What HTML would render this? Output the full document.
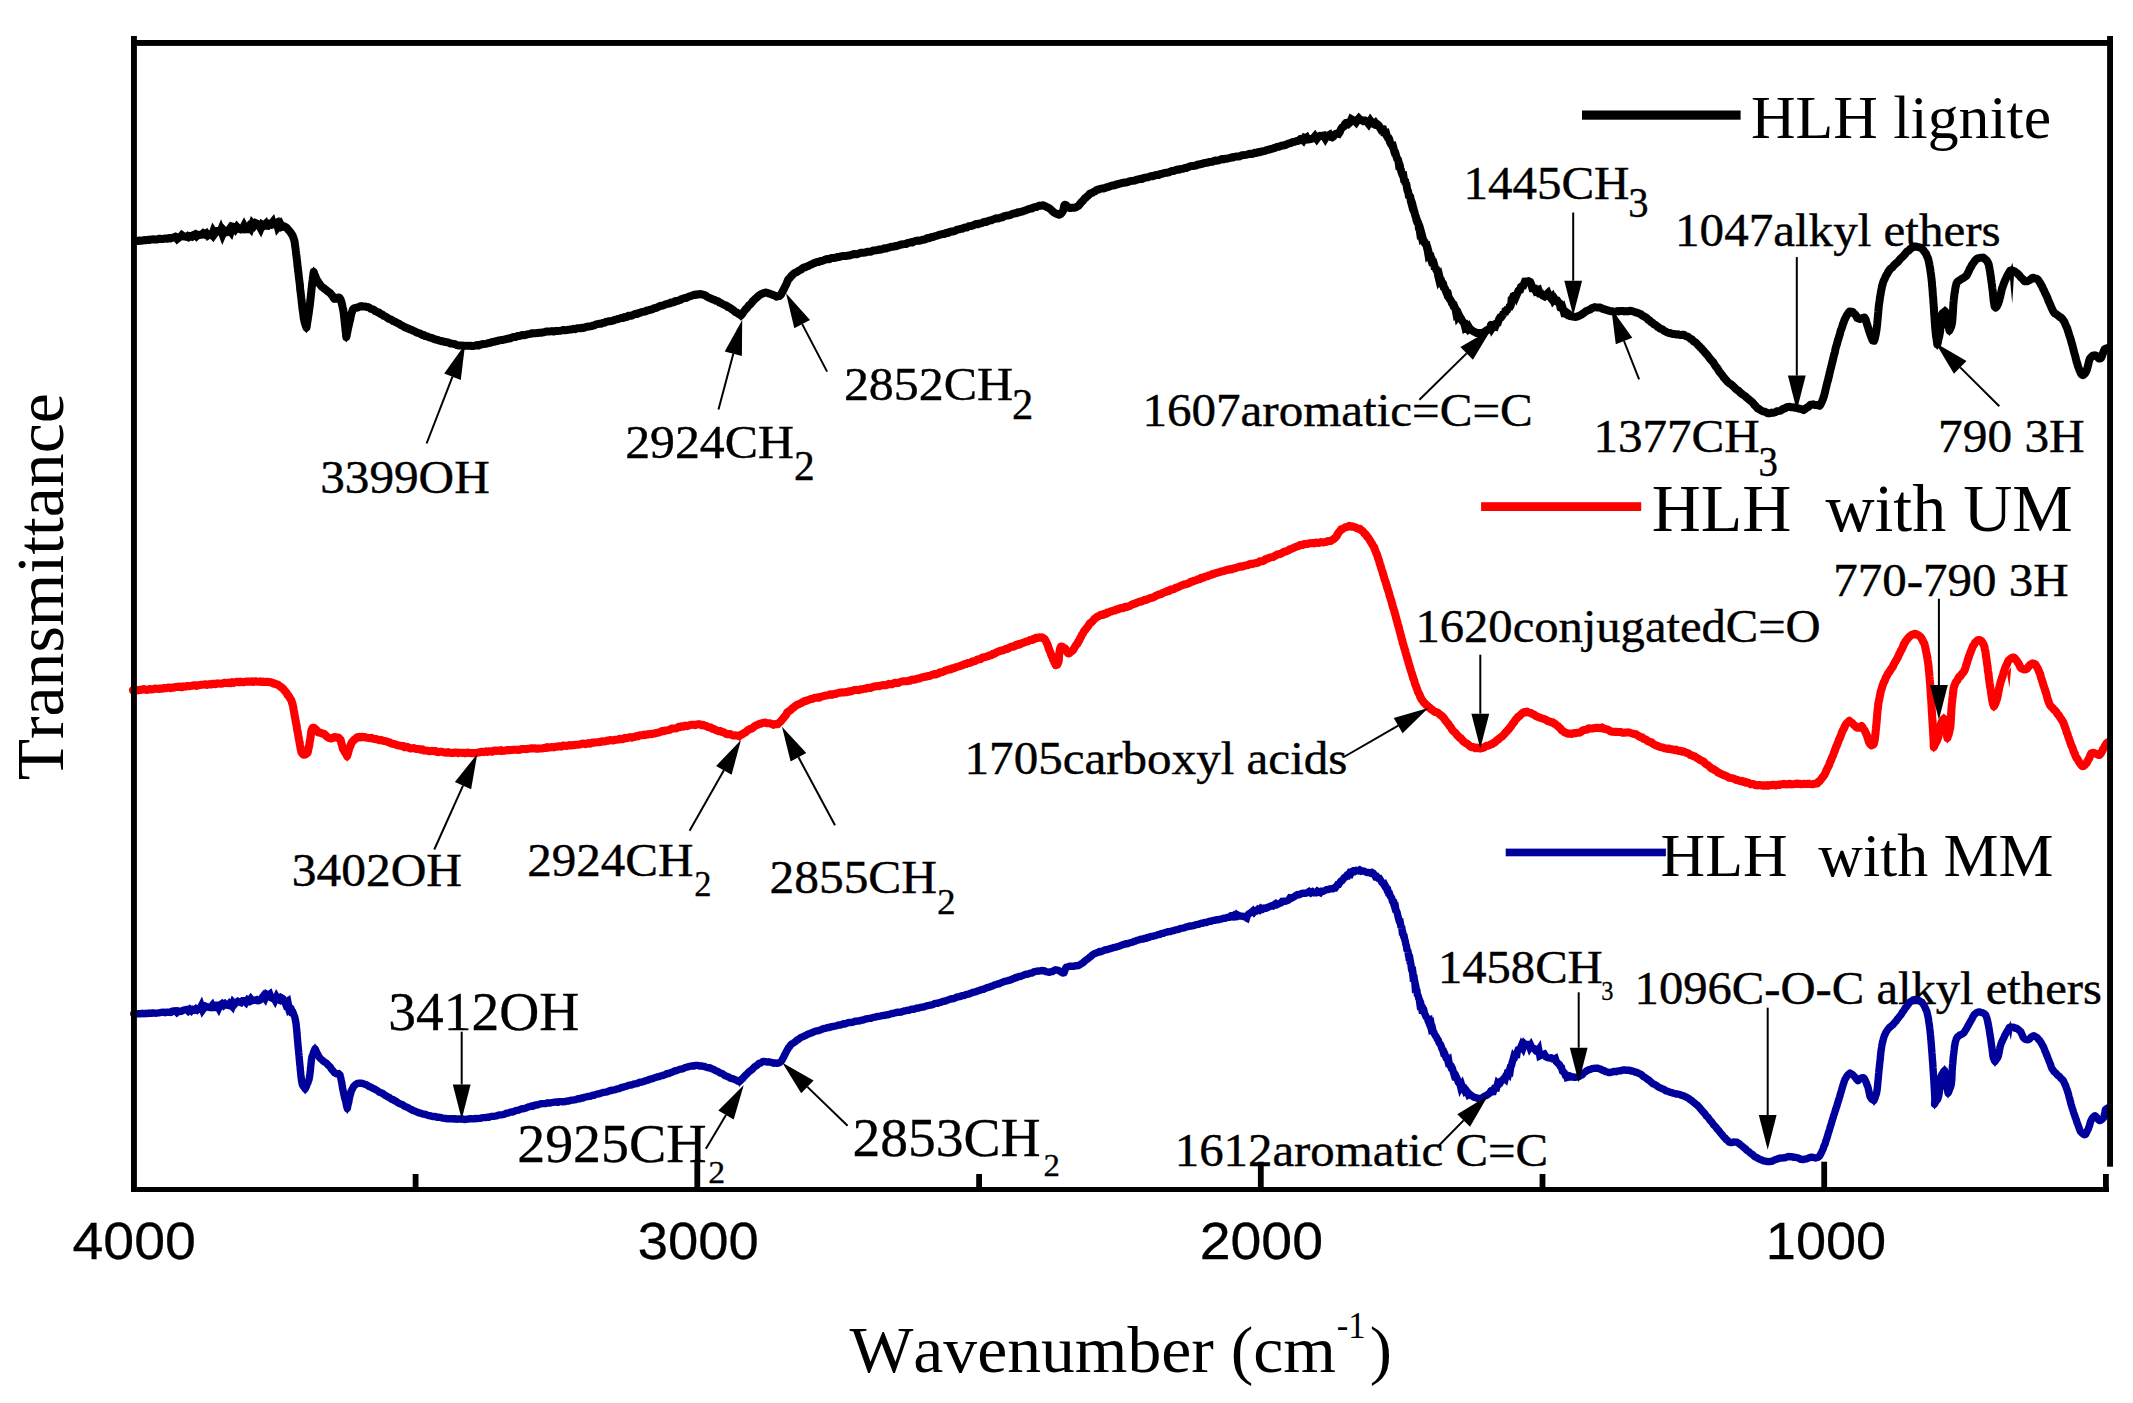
<!DOCTYPE html>
<html><head><meta charset="utf-8"><title>FTIR spectra</title>
<style>html,body{margin:0;padding:0;background:#fff}svg{display:block}text{font-kerning:none}</style>
</head><body>
<svg width="2133" height="1403" viewBox="0 0 2133 1403">
<rect width="2133" height="1403" fill="#fff"/>
<rect x="1582" y="110.5" width="158.6" height="9.2" fill="#000"/>
<rect x="1481.1" y="502.2" width="160.1" height="8.8" fill="#f00"/>
<rect x="1505.7" y="848.6" width="160.2" height="7.7" fill="#00009b"/>
<text x="1751.0" y="137.8" font-size="61.0" font-family="'Liberation Serif','Times New Roman',serif" textLength="300.1" lengthAdjust="spacingAndGlyphs" xml:space="preserve">HLH lignite</text>
<text x="1651.7" y="530.7" font-size="67.5" font-family="'Liberation Serif','Times New Roman',serif" textLength="421.1" lengthAdjust="spacingAndGlyphs" xml:space="preserve">HLH  with UM</text>
<text x="1660.6" y="876.3" font-size="61.3" font-family="'Liberation Serif','Times New Roman',serif" textLength="392.8" lengthAdjust="spacingAndGlyphs" xml:space="preserve">HLH  with MM</text>
<text x="1463.4" y="199.0" font-size="46.5" font-family="'Liberation Serif','Times New Roman',serif" textLength="166.1" lengthAdjust="spacingAndGlyphs" xml:space="preserve" stroke="#000" stroke-width="0.40">1445CH</text>
<text x="1628.2" y="217.0" font-size="42.0" font-family="'Liberation Serif','Times New Roman',serif" textLength="20.3" lengthAdjust="spacingAndGlyphs" xml:space="preserve" stroke="#000" stroke-width="0.40">3</text>
<text x="1675.1" y="246.0" font-size="46.5" font-family="'Liberation Serif','Times New Roman',serif" textLength="325.6" lengthAdjust="spacingAndGlyphs" xml:space="preserve" stroke="#000" stroke-width="0.40">1047alkyl ethers</text>
<text x="843.9" y="399.9" font-size="46.5" font-family="'Liberation Serif','Times New Roman',serif" textLength="169.1" lengthAdjust="spacingAndGlyphs" xml:space="preserve" stroke="#000" stroke-width="0.40">2852CH</text>
<text x="1012.1" y="419.3" font-size="43.5" font-family="'Liberation Serif','Times New Roman',serif" textLength="21.3" lengthAdjust="spacingAndGlyphs" xml:space="preserve" stroke="#000" stroke-width="0.40">2</text>
<text x="1142.5" y="425.7" font-size="46.5" font-family="'Liberation Serif','Times New Roman',serif" textLength="390.3" lengthAdjust="spacingAndGlyphs" xml:space="preserve" stroke="#000" stroke-width="0.40">1607aromatic=C=C</text>
<text x="320.2" y="492.9" font-size="46.5" font-family="'Liberation Serif','Times New Roman',serif" textLength="169.5" lengthAdjust="spacingAndGlyphs" xml:space="preserve" stroke="#000" stroke-width="0.40">3399OH</text>
<text x="625.2" y="458.2" font-size="46.5" font-family="'Liberation Serif','Times New Roman',serif" textLength="168.7" lengthAdjust="spacingAndGlyphs" xml:space="preserve" stroke="#000" stroke-width="0.40">2924CH</text>
<text x="793.9" y="479.7" font-size="43.0" font-family="'Liberation Serif','Times New Roman',serif" textLength="20.7" lengthAdjust="spacingAndGlyphs" xml:space="preserve" stroke="#000" stroke-width="0.40">2</text>
<text x="1593.4" y="451.9" font-size="46.5" font-family="'Liberation Serif','Times New Roman',serif" textLength="166.4" lengthAdjust="spacingAndGlyphs" xml:space="preserve" stroke="#000" stroke-width="0.40">1377CH</text>
<text x="1758.6" y="475.5" font-size="42.0" font-family="'Liberation Serif','Times New Roman',serif" textLength="19.4" lengthAdjust="spacingAndGlyphs" xml:space="preserve" stroke="#000" stroke-width="0.40">3</text>
<text x="1938.1" y="451.9" font-size="46.5" font-family="'Liberation Serif','Times New Roman',serif" textLength="146.6" lengthAdjust="spacingAndGlyphs" xml:space="preserve" stroke="#000" stroke-width="0.40">790 3H</text>
<text x="1833.3" y="595.7" font-size="46.5" font-family="'Liberation Serif','Times New Roman',serif" textLength="235.2" lengthAdjust="spacingAndGlyphs" xml:space="preserve" stroke="#000" stroke-width="0.40">770-790 3H</text>
<text x="1415.5" y="641.6" font-size="46.5" font-family="'Liberation Serif','Times New Roman',serif" textLength="405.2" lengthAdjust="spacingAndGlyphs" xml:space="preserve" stroke="#000" stroke-width="0.40">1620conjugatedC=O</text>
<text x="964.6" y="773.8" font-size="46.5" font-family="'Liberation Serif','Times New Roman',serif" textLength="382.8" lengthAdjust="spacingAndGlyphs" xml:space="preserve" stroke="#000" stroke-width="0.40">1705carboxyl acids</text>
<text x="291.7" y="885.6" font-size="46.5" font-family="'Liberation Serif','Times New Roman',serif" textLength="170.4" lengthAdjust="spacingAndGlyphs" xml:space="preserve" stroke="#000" stroke-width="0.40">3402OH</text>
<text x="527.3" y="875.8" font-size="46.5" font-family="'Liberation Serif','Times New Roman',serif" textLength="166.2" lengthAdjust="spacingAndGlyphs" xml:space="preserve" stroke="#000" stroke-width="0.40">2924CH</text>
<text x="694.2" y="896.1" font-size="36.0" font-family="'Liberation Serif','Times New Roman',serif" textLength="17.3" lengthAdjust="spacingAndGlyphs" xml:space="preserve" stroke="#000" stroke-width="0.30">2</text>
<text x="769.5" y="892.9" font-size="46.5" font-family="'Liberation Serif','Times New Roman',serif" textLength="167.5" lengthAdjust="spacingAndGlyphs" xml:space="preserve" stroke="#000" stroke-width="0.40">2855CH</text>
<text x="937.0" y="913.5" font-size="36.4" font-family="'Liberation Serif','Times New Roman',serif" textLength="18.7" lengthAdjust="spacingAndGlyphs" xml:space="preserve" stroke="#000" stroke-width="0.30">2</text>
<text x="388.3" y="1030.0" font-size="55.0" font-family="'Liberation Serif','Times New Roman',serif" textLength="191.0" lengthAdjust="spacingAndGlyphs" xml:space="preserve" stroke="#000" stroke-width="0.30">3412OH</text>
<text x="517.2" y="1162.3" font-size="55.0" font-family="'Liberation Serif','Times New Roman',serif" textLength="189.5" lengthAdjust="spacingAndGlyphs" xml:space="preserve" stroke="#000" stroke-width="0.30">2925CH</text>
<text x="708.2" y="1182.5" font-size="32.4" font-family="'Liberation Serif','Times New Roman',serif" textLength="16.9" lengthAdjust="spacingAndGlyphs" xml:space="preserve" stroke="#000" stroke-width="0.30">2</text>
<text x="852.4" y="1155.5" font-size="55.0" font-family="'Liberation Serif','Times New Roman',serif" textLength="188.3" lengthAdjust="spacingAndGlyphs" xml:space="preserve" stroke="#000" stroke-width="0.30">2853CH</text>
<text x="1043.4" y="1175.8" font-size="32.4" font-family="'Liberation Serif','Times New Roman',serif" textLength="16.4" lengthAdjust="spacingAndGlyphs" xml:space="preserve" stroke="#000" stroke-width="0.30">2</text>
<text x="1174.8" y="1165.6" font-size="46.5" font-family="'Liberation Serif','Times New Roman',serif" textLength="373.3" lengthAdjust="spacingAndGlyphs" xml:space="preserve" stroke="#000" stroke-width="0.40">1612aromatic C=C</text>
<text x="1437.9" y="982.8" font-size="46.5" font-family="'Liberation Serif','Times New Roman',serif" textLength="164.8" lengthAdjust="spacingAndGlyphs" xml:space="preserve" stroke="#000" stroke-width="0.40">1458CH</text>
<text x="1601.2" y="1000.0" font-size="28.3" font-family="'Liberation Serif','Times New Roman',serif" textLength="12.2" lengthAdjust="spacingAndGlyphs" xml:space="preserve" stroke="#000" stroke-width="0.30">3</text>
<text x="1634.6" y="1003.7" font-size="46.5" font-family="'Liberation Serif','Times New Roman',serif" textLength="467.3" lengthAdjust="spacingAndGlyphs" xml:space="preserve" stroke="#000" stroke-width="0.40">1096C-O-C alkyl ethers</text>
<text x="72.4" y="1259.2" font-size="51.8" font-family="'Liberation Sans',Arial,sans-serif" textLength="123.5" lengthAdjust="spacingAndGlyphs" xml:space="preserve" stroke="#000" stroke-width="0.30">4000</text>
<text x="637.8" y="1259.2" font-size="51.8" font-family="'Liberation Sans',Arial,sans-serif" textLength="121.0" lengthAdjust="spacingAndGlyphs" xml:space="preserve" stroke="#000" stroke-width="0.30">3000</text>
<text x="1199.7" y="1259.2" font-size="51.8" font-family="'Liberation Sans',Arial,sans-serif" textLength="123.3" lengthAdjust="spacingAndGlyphs" xml:space="preserve" stroke="#000" stroke-width="0.30">2000</text>
<text x="1765.8" y="1259.2" font-size="51.8" font-family="'Liberation Sans',Arial,sans-serif" textLength="120.4" lengthAdjust="spacingAndGlyphs" xml:space="preserve" stroke="#000" stroke-width="0.30">1000</text>
<text x="849.4" y="1372.3" font-size="66.0" font-family="'Liberation Serif','Times New Roman',serif" textLength="486.6" lengthAdjust="spacingAndGlyphs" xml:space="preserve">Wavenumber (cm</text>
<text x="1336.7" y="1338.1" font-size="37.6" font-family="'Liberation Serif','Times New Roman',serif" textLength="28.8" lengthAdjust="spacingAndGlyphs" xml:space="preserve">-1</text>
<text x="1369.8" y="1372.3" font-size="66.0" font-family="'Liberation Serif','Times New Roman',serif" textLength="22.2" lengthAdjust="spacingAndGlyphs" xml:space="preserve">)</text>
<text transform="translate(63.4,780.3) rotate(-90)" font-size="67.0" font-family="'Liberation Serif','Times New Roman',serif" textLength="387.1" lengthAdjust="spacingAndGlyphs">Transmittance</text>
<clipPath id="cp"><rect x="120" y="46" width="1990" height="1141"/></clipPath>
<g clip-path="url(#cp)">
<path d="M136.5,241.0 L137.3,240.8 L138.3,241.1 L139.6,240.5 L141.0,240.7 L142.6,240.5 L144.2,240.1 L146.0,240.3 L147.9,239.7 L149.8,239.9 L151.6,239.4 L153.5,239.3 L155.3,239.4 L157.0,239.5 L158.6,238.8 L160.0,238.8 L161.3,239.0 L162.7,239.1 L164.2,238.7 L165.7,238.4 L167.3,238.8 L168.9,237.9 L170.5,238.4 L172.2,237.8 L173.9,237.6 L175.5,236.8" fill="none" stroke="#000" stroke-width="8.0" stroke-linejoin="round" stroke-miterlimit="2.7" stroke-linecap="round"/>
<path d="M175.5,236.8 L177.2,238.9 L178.8,237.6 L180.4,237.0 L181.9,235.2 L183.4,236.3 L184.8,236.6 L186.1,236.8 L187.4,236.0 L188.8,237.1 L190.3,236.2 L191.8,236.7 L193.4,235.1 L195.0,234.4 L196.6,236.2 L198.3,234.8 L199.9,235.0 L201.5,234.7 L203.2,233.2 L204.8,234.3 L206.3,233.4 L207.8,235.5 L209.3,234.5 L210.7,233.9 L212.0,235.1 L213.3,231.5 L214.7,233.7 L216.2,231.7 L217.7,228.5 L219.3,233.9 L220.9,230.1 L222.5,234.3 L224.1,230.6 L225.8,232.4 L227.4,232.1 L229.1,229.7 L230.7,231.7 L232.3,226.6 L233.9,227.0 L235.4,229.1 L236.9,226.9 L238.3,228.4 L239.6,228.9 L240.9,229.4 L242.4,228.8 L243.9,226.0 L245.5,229.3 L247.2,229.2 L248.9,226.7 L250.6,228.6 L252.4,223.6 L254.1,225.5 L255.8,223.1 L257.5,223.8 L259.2,225.5 L260.7,228.3 L262.2,224.7 L263.6,225.6 L264.9,224.4 L266.0,228.5 L267.0,225.9 L269.0,223.9 L270.8,224.5 L272.5,222.4 L274.0,227.3 L275.4,223.3 L276.7,222.7 L277.9,227.2 L279.0,225.9 L280.5,224.1 L282.0,226.9 L283.5,226.4" fill="none" stroke="#000" stroke-width="8.0" stroke-linejoin="miter" stroke-miterlimit="2.7" stroke-linecap="round"/>
<path d="M283.5,226.4 L285.0,226.7 L286.3,227.4 L287.5,228.8 L288.3,229.8 L289.2,230.7 L290.1,231.8 L291.0,233.1 L291.9,234.5 L292.7,235.7 L293.4,237.7 L294.0,239.5 L294.2,240.2 L294.5,241.3 L294.7,242.8 L294.9,244.1 L295.1,245.9 L295.4,247.6 L295.6,248.8 L295.8,250.9 L296.0,252.6 L296.2,254.3 L296.4,255.6 L296.6,257.2 L296.8,258.9 L297.0,260.6 L297.2,262.3 L297.4,264.2 L297.5,265.9 L297.7,267.3 L297.9,268.3 L298.0,269.8 L298.2,271.4 L298.4,272.4 L298.6,274.4 L298.8,276.3 L299.0,277.9 L299.2,279.6 L299.4,281.2 L299.6,282.7 L299.8,284.9 L300.0,286.3 L300.1,288.4 L300.3,290.2 L300.5,291.3 L300.7,292.9 L300.9,294.8 L301.0,296.0 L301.2,296.8 L301.3,297.9 L301.5,299.6 L301.7,302.0 L301.9,303.7 L302.1,305.0 L302.3,307.3 L302.5,309.2 L302.8,310.6 L303.0,312.1 L303.2,313.8 L303.4,314.9 L303.5,316.2 L303.7,318.1 L303.9,318.9 L304.3,320.7 L304.7,322.7 L305.1,323.7 L305.6,325.4 L306.1,326.6 L306.5,327.8 L306.7,326.0 L307.0,324.4 L307.2,322.8 L307.5,321.1 L307.7,319.8 L308.0,317.9 L308.2,316.4 L308.5,314.5 L308.7,313.5 L308.9,311.6 L309.1,310.1 L309.3,308.8 L309.5,307.6 L309.7,305.9 L309.9,305.0 L310.0,303.2 L310.2,301.7 L310.4,300.1 L310.6,298.0 L310.8,296.7 L310.9,294.8 L311.1,293.0 L311.3,292.0 L311.4,289.9 L311.6,288.7 L311.7,287.5 L311.9,286.1 L312.0,284.9 L312.2,283.3 L312.4,281.6 L312.6,280.2 L312.8,278.0 L313.1,276.8 L313.3,275.0 L313.5,273.4 L313.7,272.0 L314.4,273.9 L315.0,275.4 L315.7,277.1 L316.3,278.8 L317.0,280.3 L317.8,281.3 L318.7,282.9 L319.8,284.2 L320.9,285.6 L322.0,287.0 L323.1,287.7 L324.6,288.9 L326.2,290.0 L327.8,291.4 L329.2,292.3 L330.3,293.3 L331.5,294.8 L332.5,295.9 L333.5,297.6 L334.4,298.9 L336.1,298.7 L338.0,297.4 L339.6,297.9 L340.1,298.9 L340.6,299.6 L341.0,301.0 L341.5,302.3 L342.0,304.4 L342.4,306.3 L342.8,308.3 L343.2,309.7 L343.4,311.1 L343.5,312.2 L343.7,313.0 L343.9,314.9 L344.0,316.3 L344.2,317.2 L344.4,319.3 L344.5,320.5 L344.7,322.2 L344.9,324.3 L345.1,325.8 L345.2,327.0 L345.4,328.9 L345.6,330.7 L345.8,332.2 L346.0,333.7 L346.1,335.4 L346.3,337.1 L346.6,335.7 L347.0,333.5 L347.3,332.3 L347.7,330.5 L348.0,328.4 L348.4,327.0 L348.7,325.6 L349.1,323.9 L349.4,322.1 L349.7,321.5 L350.0,320.1 L350.2,319.2 L350.7,316.6 L351.1,314.9 L351.5,313.0 L352.0,312.0 L352.5,310.3 L353.0,309.2 L354.5,308.1 L356.3,307.8 L358.2,307.3 L359.7,306.5 L361.5,306.1 L363.4,306.6 L365.4,306.6 L366.5,307.0 L367.8,307.0 L369.3,307.6 L370.8,308.8 L372.4,309.3 L374.0,309.8 L375.5,311.3 L376.8,311.7 L378.0,312.5 L379.3,312.6 L380.6,314.0 L382.1,314.3 L383.5,315.8 L385.0,316.3 L386.4,317.1 L387.9,318.1 L389.2,319.1 L390.3,319.2 L391.6,319.8 L392.9,320.9 L394.3,321.4 L395.8,322.1 L397.3,323.0 L398.8,323.7 L400.3,324.7 L401.8,325.5 L403.3,326.3 L404.7,327.3 L405.9,327.5 L407.1,328.2 L408.5,328.6 L410.0,329.4 L411.5,329.8 L413.1,330.7 L414.7,331.2 L416.4,332.4 L418.0,332.9 L419.6,333.3 L421.1,334.2 L422.6,335.1 L424.0,335.0 L425.3,336.1 L426.6,336.2 L428.0,336.8 L429.5,337.5 L431.0,337.7 L432.6,338.3 L434.2,339.0 L435.8,339.7 L437.4,339.7 L439.0,340.6 L440.6,340.9 L442.0,341.3 L443.5,341.5 L444.8,341.9 L446.0,341.9 L447.4,342.4 L448.8,342.7 L450.4,343.6 L451.9,343.6 L453.5,343.9 L455.1,344.2 L456.7,345.1 L458.2,345.4 L459.7,345.5 L461.1,345.4 L462.5,345.6 L463.7,345.7 L465.2,345.9 L466.8,345.7 L468.5,345.9 L470.2,345.7 L471.9,346.1 L473.7,346.0 L475.4,345.5 L477.0,345.1 L478.6,345.5 L480.0,344.7 L481.4,344.6 L482.7,344.1 L484.1,344.1 L485.5,343.9 L487.0,343.6 L488.6,343.0 L490.3,342.8 L492.1,342.0 L494.0,341.8 L496.0,341.2 L497.0,341.2 L498.0,340.7 L499.2,340.4 L500.4,340.3 L501.7,339.9 L503.0,339.9 L504.4,339.5 L505.9,339.3 L507.4,338.8 L509.0,338.5 L510.6,338.2 L512.2,337.4 L513.9,337.0 L515.5,337.1 L517.2,336.1 L518.9,336.1 L520.6,335.7 L522.3,334.9 L524.0,335.2 L525.7,334.9 L527.3,334.4 L528.9,334.1 L530.5,333.9 L531.6,333.2 L532.7,333.4 L534.0,333.2 L535.2,333.3 L536.6,333.1 L537.9,333.0 L539.4,332.7 L540.8,332.8 L542.3,332.4 L543.9,332.3 L545.4,331.8 L547.0,331.5 L548.6,331.4 L550.3,331.4 L551.9,331.1 L553.6,331.5 L555.3,331.1 L557.0,331.0 L558.6,330.9 L560.3,330.7 L562.0,330.4 L563.7,329.9 L565.3,330.3 L567.0,330.1 L568.6,329.7 L570.2,329.6 L571.8,329.5 L573.3,328.8 L574.9,329.2 L576.3,328.6 L577.8,328.2 L579.2,328.2 L580.5,328.3 L581.8,327.7 L583.1,327.9 L584.4,327.8 L585.7,327.1 L587.1,326.7 L588.5,326.5 L590.0,326.4 L591.4,326.1 L593.0,325.6 L594.5,325.3 L596.0,324.4 L597.6,324.1 L599.2,323.8 L600.8,323.8 L602.4,323.0 L604.1,322.8 L605.7,322.0 L607.3,321.6 L608.9,321.3 L610.5,321.2 L612.1,320.8 L613.7,320.4 L615.3,319.6 L616.9,319.4 L618.4,318.9 L619.9,318.5 L621.4,317.8 L622.8,318.1 L624.3,317.1 L625.7,317.3 L627.0,316.9 L628.3,315.8 L629.5,315.8 L630.8,315.8 L631.9,315.6 L633.0,314.9 L634.5,314.3 L635.9,313.8 L637.4,314.0 L639.0,312.9 L640.5,312.7 L642.1,311.9 L643.7,311.7 L645.3,311.6 L646.8,310.4 L648.4,310.5 L650.0,309.7 L651.6,309.5 L653.2,308.8 L654.7,307.9 L656.2,308.0 L657.8,307.2 L659.2,306.3 L660.7,305.8 L662.1,305.7 L663.5,305.2 L664.8,304.7 L666.1,304.1 L667.4,303.9 L668.6,303.5 L669.7,303.5 L670.8,302.5 L672.3,302.6 L673.8,302.2 L675.3,301.1 L676.9,301.2 L678.5,300.5 L680.1,300.0 L681.7,299.0 L683.3,298.5 L684.9,297.9 L686.5,297.9 L688.0,297.0 L689.5,296.4 L690.9,296.0 L692.3,295.4 L693.6,294.9 L694.9,294.6 L696.0,294.9 L697.1,294.3 L698.0,294.6 L699.8,294.0 L701.4,294.2 L702.9,294.7 L704.4,294.9 L705.7,295.6 L707.0,296.7 L708.3,297.3 L709.6,297.9 L711.0,298.4 L712.1,299.1 L713.4,299.7 L714.8,300.0 L716.2,300.9 L717.8,301.1 L719.3,302.4 L720.9,303.0 L722.4,304.0 L723.9,304.7 L725.3,305.2 L726.6,305.7 L727.7,307.0 L729.0,307.2 L730.3,308.2 L731.6,309.0 L732.9,309.8 L734.3,311.1 L735.6,312.2 L737.0,312.6 L738.3,313.8 L739.7,314.4 L741.0,315.5 L742.0,314.3 L743.0,312.9 L744.0,311.4 L745.0,310.1 L746.0,308.8 L747.0,308.1 L748.0,306.6 L749.0,305.2 L750.0,304.6 L751.0,303.7 L752.0,302.3 L753.0,301.0 L754.2,299.9 L755.4,298.6 L756.7,297.6 L758.0,296.3 L759.4,295.3 L760.7,294.4 L762.0,293.8 L763.2,293.4 L764.3,292.9 L765.6,292.5 L767.0,292.8 L768.6,293.4 L770.3,293.9 L772.0,294.6 L773.6,295.1 L775.3,295.8 L776.8,296.7 L778.1,296.1 L779.3,296.0 L780.1,295.5 L780.9,294.7 L781.7,293.0 L782.5,291.7 L783.3,290.1 L784.1,288.6 L784.9,286.9 L785.6,285.6 L786.4,283.8 L787.1,282.3 L787.9,280.2 L788.6,278.9 L789.3,278.5 L790.3,277.4 L791.4,275.9 L792.6,274.9 L793.8,273.5 L795.1,272.8 L796.5,272.3 L797.9,271.3 L799.4,270.4 L801.0,269.7 L802.0,268.6 L803.0,268.0 L804.0,267.4 L805.2,267.2 L806.4,266.7 L807.7,266.3 L809.0,265.5 L810.5,264.8 L811.9,264.3 L813.5,263.4 L815.1,262.9 L816.8,261.9 L818.6,261.9 L820.4,260.9 L822.3,260.9 L824.3,260.1 L825.2,259.6 L826.2,259.2 L827.3,259.1 L828.5,259.2 L829.7,259.0 L831.0,258.2 L832.3,257.9 L833.7,258.0 L835.1,257.8 L836.6,257.4 L838.1,256.9 L839.7,257.0 L841.3,256.2 L842.9,256.1 L844.6,256.0 L846.2,256.1 L847.9,255.5 L849.6,255.4 L851.3,254.8 L853.0,254.3 L854.7,254.0 L856.4,254.3 L858.1,253.8 L859.8,253.2 L861.5,252.7 L863.1,252.8 L864.8,252.6 L866.4,252.1 L867.9,251.7 L869.5,251.7 L871.0,251.7 L872.4,250.8 L873.8,250.4 L875.2,250.4 L876.5,250.2 L877.7,250.1 L879.0,249.5 L880.3,249.7 L881.7,249.3 L883.1,248.9 L884.5,248.3 L885.9,248.6 L887.4,247.8 L888.9,247.8 L890.4,247.0 L891.9,246.7 L893.5,246.8 L895.0,246.0 L896.6,246.2 L898.1,245.5 L899.7,244.9 L901.3,244.5 L902.9,244.3 L904.5,244.1 L906.0,244.0 L907.6,243.0 L909.2,242.8 L910.7,242.3 L912.2,242.5 L913.8,241.5 L915.3,241.1 L916.8,240.7 L918.2,240.6 L919.7,240.7 L921.1,240.3 L922.5,239.8 L923.8,239.7 L925.2,239.3 L926.4,238.5 L927.7,238.0 L929.0,238.3 L930.3,237.8 L931.6,236.9 L933.0,237.0 L934.4,236.4 L935.9,236.0 L937.3,235.6 L938.8,235.0 L940.4,234.4 L941.9,234.2 L943.5,233.8 L945.1,233.9 L946.7,232.7 L948.3,232.9 L949.9,231.9 L951.5,231.5 L953.1,231.4 L954.7,231.0 L956.3,230.2 L957.9,229.4 L959.5,229.3 L961.1,228.7 L962.6,228.7 L964.2,227.7 L965.7,227.4 L967.2,227.4 L968.6,226.3 L970.0,226.1 L971.4,226.1 L972.8,225.6 L974.1,224.7 L975.3,224.3 L976.5,224.0 L977.7,224.3 L979.1,223.4 L980.5,223.4 L981.9,223.1 L983.4,222.2 L984.9,221.8 L986.5,221.9 L988.1,221.1 L989.7,220.4 L991.3,220.3 L992.9,219.5 L994.5,219.0 L996.2,218.3 L997.8,218.5 L999.4,218.1 L1001.0,217.5 L1002.6,217.2 L1004.2,216.1 L1005.7,215.8 L1007.3,215.5 L1008.7,215.5 L1010.2,215.1 L1011.6,214.2 L1012.9,213.7 L1014.2,213.5 L1015.4,213.2 L1016.6,213.2 L1017.7,212.3 L1018.7,212.5 L1019.7,212.2 L1021.6,211.7 L1023.4,211.1 L1025.3,210.4 L1027.1,209.7 L1028.8,209.1 L1030.5,208.6 L1032.1,208.5 L1033.7,207.4 L1035.1,207.1 L1036.5,207.1 L1037.7,206.4 L1038.8,205.9 L1039.8,205.6 L1040.7,205.8 L1043.3,205.2 L1044.6,205.9 L1045.9,206.4 L1047.0,207.2 L1048.4,207.7 L1049.9,208.8 L1051.3,210.0 L1052.5,211.3 L1054.1,212.5 L1055.9,213.5 L1057.7,214.2 L1059.1,214.7 L1060.6,214.1 L1062.0,212.5 L1063.0,210.9 L1063.5,209.5 L1063.9,207.3 L1064.3,205.1 L1064.8,204.8 L1065.9,204.9 L1067.4,206.6 L1068.9,207.6 L1070.4,208.1 L1072.2,207.7 L1074.1,207.7 L1075.5,207.5 L1077.2,206.5 L1078.7,205.7 L1079.6,204.5 L1080.6,203.2 L1081.6,201.9 L1082.7,201.2 L1083.7,199.8 L1084.9,198.3 L1086.2,197.4 L1087.5,196.0 L1088.6,195.3 L1089.7,193.7 L1091.0,193.2 L1092.3,192.7 L1093.7,191.9 L1095.1,191.3 L1096.4,190.1 L1098.0,189.7 L1099.7,189.0 L1101.5,188.5 L1103.3,188.6 L1105.0,187.8 L1106.1,187.7 L1107.4,186.9 L1108.7,186.9 L1110.2,186.2 L1111.7,185.6 L1113.2,185.6 L1114.8,185.3 L1116.5,184.2 L1118.1,184.2 L1119.1,183.9 L1120.2,183.4 L1121.2,183.3 L1122.3,182.9 L1123.5,182.7 L1124.7,182.5 L1126.0,182.5 L1127.5,182.2 L1129.1,181.5 L1130.8,180.9 L1132.8,180.8 L1134.9,180.5 L1137.3,179.6 L1140.0,179.0 L1140.8,178.8 L1141.8,179.0 L1142.8,178.6 L1143.8,177.9 L1144.9,177.7 L1146.1,177.6 L1147.3,177.4 L1148.6,177.2 L1149.9,176.4 L1151.3,176.1 L1152.7,176.2 L1154.2,175.6 L1155.7,175.1 L1157.2,174.8 L1158.8,174.9 L1160.4,174.0 L1162.1,173.8 L1163.7,173.2 L1165.4,172.8 L1167.1,172.7 L1168.8,172.4 L1170.5,171.5 L1172.3,170.9 L1174.0,170.9 L1175.8,170.0 L1177.5,169.4 L1179.3,169.7 L1181.0,168.9 L1182.8,168.8 L1184.5,168.0 L1186.2,168.0 L1188.0,167.2 L1189.6,166.6 L1191.3,166.0 L1193.0,166.1 L1194.6,165.7 L1196.2,165.6 L1197.7,164.5 L1199.3,164.6 L1200.8,164.0 L1202.2,163.8 L1203.6,163.1 L1205.0,162.9 L1206.3,162.8 L1207.6,162.8 L1208.8,161.9 L1209.9,161.9 L1211.0,161.9 L1212.5,161.7 L1214.1,160.8 L1215.7,160.4 L1217.3,160.7 L1218.8,160.4 L1220.4,159.7 L1222.0,159.0 L1223.7,159.4 L1225.3,158.7 L1226.9,158.8 L1228.5,158.2 L1230.1,158.1 L1231.7,157.2 L1233.3,157.5 L1234.9,156.7 L1236.5,156.6 L1238.1,156.6 L1239.6,156.3 L1241.2,155.5 L1242.7,155.2 L1244.3,155.1 L1245.8,154.9 L1247.3,154.5 L1248.8,154.0 L1250.2,153.8 L1251.7,153.9 L1253.1,153.8 L1254.5,152.8 L1255.8,152.9 L1257.2,152.8 L1258.5,151.9 L1259.8,152.3 L1261.0,151.4 L1262.3,151.5 L1263.6,151.1 L1265.0,150.8 L1266.5,150.1 L1267.9,149.8 L1269.5,149.5 L1271.0,148.9 L1272.6,148.7 L1274.2,148.0 L1275.8,147.6 L1277.4,146.7 L1279.0,146.7 L1280.7,146.1 L1282.3,145.4 L1283.9,145.4 L1285.6,144.9 L1287.2,144.1 L1288.8,143.4 L1290.4,143.2 L1292.0,142.4 L1293.5,141.9 L1295.0,141.7 L1296.5,141.0 L1298.0,140.9 L1299.4,140.5 L1300.7,139.0" fill="none" stroke="#000" stroke-width="8.0" stroke-linejoin="round" stroke-miterlimit="2.7" stroke-linecap="round"/>
<path d="M1300.7,139.0 L1302.0,138.8 L1303.3,140.1 L1304.5,138.0 L1305.6,138.5 L1306.7,137.7 L1307.7,139.5 L1309.5,139.3 L1311.3,138.8 L1313.2,138.4 L1315.0,136.3 L1316.8,138.8 L1318.6,136.4 L1320.3,135.9 L1322.0,136.0 L1323.7,135.6 L1325.3,138.2 L1326.8,135.7 L1328.3,135.4 L1329.7,134.6 L1331.0,136.9 L1332.2,137.3 L1333.3,136.6 L1334.3,135.1 L1335.8,133.9 L1337.3,133.4 L1338.6,133.8 L1339.8,132.0 L1340.9,129.3 L1342.0,127.6 L1343.0,127.1 L1344.0,126.4 L1345.0,124.0 L1346.0,122.9 L1347.3,122.7 L1348.6,123.7 L1350.0,122.4 L1351.4,119.3 L1352.9,120.2 L1354.5,120.5 L1356.1,122.2 L1357.7,119.8 L1358.8,118.5 L1360.2,120.0 L1361.7,120.2 L1363.3,121.2 L1365.0,120.6 L1366.8,121.5 L1368.6,123.8 L1370.4,120.8 L1372.1,123.1 L1373.7,124.0 L1375.2,122.8 L1376.6,124.7 L1377.7,124.6 L1378.8,125.6 L1379.9,127.7 L1381.0,129.5 L1382.1,129.1 L1383.1,129.2 L1384.1,132.9 L1385.1,133.2 L1386.0,133.0 L1386.9,136.2 L1387.8,137.7 L1388.6,137.9 L1389.3,139.1 L1389.9,142.0 L1390.5,143.2 L1391.1,144.3 L1391.7,144.7 L1392.3,146.0 L1392.9,145.9 L1393.5,148.0 L1394.2,151.2 L1394.8,153.0 L1395.4,153.1 L1396.0,155.1 L1396.5,156.9 L1397.1,158.8 L1397.7,159.3 L1398.1,159.9 L1398.5,161.5 L1398.9,164.5 L1399.4,164.3 L1399.8,165.3 L1400.3,168.6 L1400.8,169.5 L1401.3,171.8 L1401.8,173.0 L1402.3,174.6 L1402.9,175.8 L1403.4,175.7 L1403.9,179.0 L1404.5,182.2 L1405.0,179.0 L1405.5,184.5 L1406.0,182.9 L1406.5,185.0 L1407.0,188.3 L1407.5,190.6 L1408.0,191.1 L1408.4,193.2 L1408.8,195.5 L1409.1,195.7 L1409.5,198.2 L1409.9,195.6 L1410.3,197.1 L1410.8,200.9 L1411.2,202.4 L1411.6,201.8 L1412.1,203.2 L1412.6,205.1 L1413.0,207.2 L1413.5,208.4 L1414.0,211.4 L1414.4,211.8 L1414.9,214.0 L1415.4,216.2 L1415.9,216.9 L1416.3,219.5 L1416.8,220.9 L1417.3,220.9 L1417.7,222.0 L1418.2,222.9 L1418.6,225.2 L1419.1,230.0 L1419.5,228.7 L1419.9,231.5 L1420.3,231.1 L1420.8,233.4 L1421.2,235.1 L1421.7,234.3 L1422.3,236.5 L1422.8,238.7 L1423.4,240.3 L1424.0,241.8 L1424.5,242.0 L1425.1,243.6 L1425.7,244.2 L1426.4,244.4 L1427.0,247.8 L1427.6,250.1 L1428.2,253.6 L1428.8,252.9 L1429.4,255.3 L1430.0,256.4 L1430.6,256.4 L1431.2,259.8 L1431.7,261.4 L1432.3,261.2 L1432.8,263.0 L1433.3,263.7 L1433.8,263.5 L1434.4,265.6 L1434.9,269.4 L1435.6,267.0 L1436.2,269.8 L1436.9,270.8 L1437.6,272.3 L1438.2,276.0 L1438.9,278.8 L1439.7,277.4 L1440.4,280.2 L1441.1,280.4 L1441.8,283.0 L1442.5,282.9 L1443.2,283.8 L1443.8,287.4 L1444.5,287.9 L1445.1,289.0 L1445.7,290.7 L1446.3,292.3 L1446.8,292.4 L1447.3,294.3 L1448.0,294.2 L1448.8,297.6 L1449.5,298.5 L1450.3,299.9 L1451.0,300.7 L1451.8,302.9 L1452.5,303.4 L1453.3,305.6 L1454.0,305.6 L1454.7,307.5 L1455.4,308.6 L1456.1,312.4 L1456.8,311.6 L1457.4,311.9 L1458.1,316.0 L1458.9,315.0 L1459.8,317.0 L1460.6,317.7 L1461.5,319.3 L1462.4,321.1 L1463.3,322.3 L1464.2,323.3 L1465.1,326.9 L1466.0,326.1 L1466.8,328.0 L1467.6,328.9 L1468.9,327.2 L1470.3,329.5" fill="none" stroke="#000" stroke-width="8.0" stroke-linejoin="miter" stroke-miterlimit="2.7" stroke-linecap="round"/>
<path d="M1470.3,329.5 L1471.8,330.2 L1473.4,331.4 L1475.0,332.1 L1476.6,333.0 L1478.1,333.0 L1479.4,333.1 L1480.7,332.9 L1482.2,332.9 L1483.7,332.4 L1485.3,331.3 L1486.9,330.1 L1488.4,329.6 L1489.9,328.3 L1491.2,325.0" fill="none" stroke="#000" stroke-width="8.0" stroke-linejoin="round" stroke-miterlimit="2.7" stroke-linecap="round"/>
<path d="M1491.2,325.0 L1492.2,327.9 L1493.2,326.4 L1494.3,325.3 L1495.5,325.9 L1496.6,323.3 L1497.8,322.9 L1499.0,319.3 L1500.1,317.4 L1501.2,317.2 L1502.2,315.7 L1503.1,314.5 L1503.8,312.0 L1504.6,314.5 L1505.4,311.0 L1506.2,310.7 L1507.1,310.1 L1507.9,307.3 L1508.8,309.4 L1509.6,306.5 L1510.4,306.0 L1511.2,303.8 L1511.9,296.9 L1512.6,301.8 L1513.2,296.6 L1514.0,294.4 L1514.8,297.1 L1515.7,292.7 L1516.6,295.1 L1517.5,293.0 L1518.4,290.9 L1519.2,290.1 L1520.1,289.8 L1520.9,286.9 L1521.6,286.3 L1523.2,285.9 L1524.9,281.5 L1526.8,281.4 L1528.5,281.1 L1530.1,281.9 L1531.1,284.2 L1532.3,288.2 L1533.4,288.2 L1534.6,288.4 L1535.9,291.1 L1537.2,290.5 L1538.5,289.9 L1539.7,293.6 L1541.1,293.6 L1542.7,295.6 L1544.4,296.4 L1546.2,294.6 L1547.9,293.1 L1549.5,296.4 L1550.9,298.1 L1552.1,296.9 L1553.4,300.2 L1554.7,298.8 L1556.0,300.6 L1557.3,300.7 L1558.4,302.5 L1559.5,303.2 L1560.5,307.6 L1561.4,308.0 L1562.4,307.2 L1563.3,310.0 L1564.3,313.5 L1565.3,313.6 L1566.3,314.2 L1567.3,313.0 L1568.7,314.0 L1570.3,316.0" fill="none" stroke="#000" stroke-width="8.0" stroke-linejoin="miter" stroke-miterlimit="2.7" stroke-linecap="round"/>
<path d="M1570.3,316.0 L1572.2,316.5 L1574.1,316.8 L1575.8,316.9 L1577.4,316.5 L1578.7,316.0 L1580.1,315.3 L1581.7,314.4 L1583.2,313.3 L1584.7,312.3 L1586.2,311.0 L1587.5,310.6 L1588.8,309.9 L1590.2,309.4 L1591.7,308.3 L1593.2,307.7 L1594.7,307.1 L1596.2,307.4 L1597.7,307.4 L1598.9,307.4 L1600.2,307.5 L1601.6,308.4 L1603.1,308.9 L1604.6,309.4 L1606.2,309.8 L1607.9,310.4 L1609.5,310.9 L1611.2,311.2 L1612.4,311.3 L1613.7,311.6 L1615.2,311.8 L1616.9,311.1 L1618.6,311.4 L1620.4,310.9 L1622.2,310.9 L1624.1,311.4 L1625.8,311.1 L1627.6,311.4 L1629.2,311.0 L1630.7,310.7 L1632.0,311.1 L1633.1,311.4 L1634.8,312.1 L1636.5,312.7 L1638.0,313.0 L1639.5,313.7 L1640.9,314.3 L1642.3,315.6 L1643.7,316.2 L1645.0,317.0 L1646.0,317.6 L1647.2,318.4 L1648.4,319.9 L1649.7,320.5 L1651.1,322.2 L1652.4,322.6 L1653.8,324.2 L1655.1,324.7 L1656.3,325.5 L1657.5,326.9 L1658.5,327.2 L1659.9,328.4 L1661.3,328.9 L1662.8,329.6 L1664.3,331.0 L1665.8,331.7 L1667.4,332.5 L1668.9,333.0 L1670.3,333.0 L1671.5,333.7 L1673.0,334.0 L1674.5,334.0 L1676.2,334.6 L1677.9,334.2 L1679.6,335.0 L1681.3,335.0 L1682.8,334.7 L1684.3,335.0 L1685.5,335.9 L1686.8,336.6 L1688.1,336.8 L1689.4,337.8 L1690.8,339.1 L1692.2,339.6 L1693.5,341.3 L1694.8,342.1 L1696.1,342.8 L1697.3,344.2 L1698.2,345.2 L1699.1,346.0 L1700.1,347.3 L1701.2,348.0 L1702.3,349.7 L1703.4,350.6 L1704.6,352.1 L1705.7,353.4 L1706.9,354.6 L1707.9,355.8 L1709.0,357.4 L1710.0,358.7 L1710.9,359.7 L1711.7,360.6 L1712.5,361.5 L1713.4,362.5 L1714.4,364.5 L1715.3,365.7 L1716.3,367.2 L1717.3,368.2 L1718.3,369.9 L1719.3,371.6 L1720.2,372.8 L1721.2,373.9 L1722.0,374.9 L1722.9,376.1 L1723.7,377.5 L1724.4,378.0 L1725.6,379.6 L1726.7,380.7 L1727.9,382.2 L1729.2,383.2 L1730.4,383.9 L1731.6,384.8 L1732.9,386.0 L1734.1,387.2 L1735.3,388.4 L1736.3,389.4 L1737.4,390.4 L1738.6,390.7 L1740.0,392.4 L1741.4,393.5 L1742.8,394.6 L1744.2,395.5 L1745.5,396.3 L1746.8,397.8 L1748.0,398.8 L1749.1,399.6 L1750.0,400.5 L1751.2,401.2 L1752.4,402.2 L1753.5,403.8 L1754.6,405.2 L1755.6,405.9 L1756.7,407.4 L1757.7,408.5 L1758.7,408.7 L1760.0,409.8 L1761.4,410.6 L1763.0,411.3 L1764.6,411.7 L1766.2,412.4 L1767.7,413.2 L1769.1,413.4 L1770.5,413.1 L1772.0,412.6 L1773.6,412.8 L1775.2,412.3 L1776.8,411.3 L1778.2,411.1 L1779.5,410.9 L1780.9,410.4 L1782.4,409.4 L1783.9,408.6 L1785.5,408.1 L1786.9,407.2 L1788.2,406.9 L1789.8,406.8 L1791.6,407.3 L1793.5,407.3 L1795.3,407.8 L1796.8,407.9 L1798.5,408.5 L1800.3,408.9 L1802.1,409.3 L1803.8,410.1 L1804.9,409.1 L1806.3,408.0 L1807.7,407.2 L1809.1,406.2 L1810.4,404.8 L1811.6,404.6 L1813.1,404.3 L1814.8,404.9 L1816.6,405.0 L1818.1,405.3 L1819.4,405.8 L1820.2,405.0 L1820.9,403.7 L1821.6,402.4 L1822.3,400.6 L1823.0,399.1 L1823.7,396.6 L1824.0,396.1 L1824.3,394.8 L1824.6,393.6 L1825.0,392.3 L1825.4,390.3 L1825.8,388.5 L1826.2,387.0 L1826.6,385.3 L1827.0,383.5 L1827.5,381.7 L1827.9,380.4 L1828.3,378.9 L1828.7,376.9 L1829.1,375.7 L1829.4,374.1 L1829.8,372.1 L1830.1,371.3 L1830.4,369.8 L1830.8,368.2 L1831.1,367.5 L1831.5,365.4 L1831.8,364.1 L1832.2,362.6 L1832.6,361.3 L1833.0,359.4 L1833.4,357.6 L1833.8,356.0 L1834.2,354.2 L1834.6,353.2 L1835.0,351.7 L1835.3,349.7 L1835.7,348.1 L1836.0,346.9 L1836.4,345.7 L1836.7,345.0 L1837.1,343.6 L1837.5,342.0 L1838.0,339.7 L1838.5,338.7 L1839.0,336.9 L1839.5,335.2 L1840.0,333.7 L1840.5,331.3 L1841.0,329.7 L1841.5,328.7 L1842.0,327.3 L1842.5,325.7 L1842.9,324.1 L1843.3,323.2 L1843.7,322.3 L1844.4,320.1 L1845.2,318.6 L1846.0,316.9 L1846.8,315.3 L1847.6,314.3 L1848.4,312.9 L1849.1,312.1 L1849.7,311.4 L1851.2,311.6 L1852.7,311.9 L1854.1,313.7 L1855.1,314.4 L1856.2,315.9 L1857.3,318.1 L1858.4,318.5 L1859.8,319.0 L1861.5,318.3 L1863.2,317.8 L1864.5,317.5 L1865.2,318.7 L1865.8,319.9 L1866.4,322.3 L1867.0,324.1 L1867.5,325.8 L1868.0,327.3 L1868.4,328.5 L1868.9,330.5 L1869.5,331.9 L1870.0,333.8 L1870.5,335.0 L1871.0,336.5 L1871.4,337.3 L1872.7,340.6 L1874.0,340.8 L1874.3,339.8 L1874.7,339.2 L1875.1,337.2 L1875.5,335.5 L1875.9,333.2 L1876.3,331.2 L1876.6,329.4 L1876.7,327.9 L1876.9,326.6 L1877.0,325.5 L1877.2,323.9 L1877.3,322.8 L1877.5,320.5 L1877.6,319.5 L1877.8,317.0 L1877.9,315.9 L1878.1,313.9 L1878.3,311.8 L1878.4,310.3 L1878.6,308.5 L1878.7,306.9 L1878.9,305.4 L1879.0,304.2 L1879.2,303.5 L1879.4,301.9 L1879.7,300.1 L1879.9,297.8 L1880.2,296.2 L1880.5,294.9 L1880.8,292.5 L1881.1,291.4 L1881.4,289.4 L1881.7,288.4 L1882.0,286.1 L1882.4,285.4 L1882.7,283.9 L1883.2,282.2 L1883.8,280.5 L1884.4,279.6 L1885.1,277.8 L1885.9,275.9 L1886.6,274.7 L1887.4,273.7 L1888.1,271.9 L1888.8,271.1 L1889.7,269.6 L1890.7,268.5 L1891.8,267.8 L1893.0,266.6 L1894.2,265.1 L1895.3,264.0 L1896.4,263.0 L1897.4,262.4 L1898.4,261.2 L1899.5,259.9 L1900.6,258.5 L1901.8,257.5 L1903.0,256.3 L1904.1,255.1 L1905.2,253.8 L1906.1,252.6 L1907.3,251.3 L1908.7,250.6 L1910.0,249.1 L1911.4,248.2 L1912.7,246.9 L1913.9,246.9 L1915.4,246.4 L1917.0,246.9 L1918.7,247.2 L1920.4,247.6 L1921.7,248.0 L1922.6,249.5 L1923.5,250.3 L1924.5,251.9 L1925.4,252.9 L1926.3,254.4 L1927.1,256.6 L1927.8,257.9 L1928.1,258.8 L1928.5,260.3 L1928.8,261.8 L1929.1,262.9 L1929.4,264.9 L1929.8,266.6 L1930.1,268.4 L1930.3,269.9 L1930.6,272.1 L1930.9,273.9 L1931.1,275.7 L1931.3,276.9 L1931.4,278.3 L1931.6,279.4 L1931.7,281.1 L1931.9,282.0 L1932.0,284.2 L1932.1,285.9 L1932.3,287.1 L1932.4,288.8 L1932.6,290.6 L1932.7,292.3 L1932.8,293.6 L1932.9,296.0 L1933.1,297.0 L1933.2,298.6 L1933.3,300.0 L1933.4,301.6 L1933.5,303.4 L1933.6,304.1 L1933.7,305.6 L1933.8,307.6 L1933.9,308.8 L1934.0,310.3 L1934.1,312.4 L1934.2,314.1 L1934.4,315.8 L1934.5,317.7 L1934.6,318.9 L1934.7,321.2 L1934.8,322.6 L1934.9,323.6 L1935.0,325.1 L1935.1,326.8 L1935.2,328.0 L1935.3,328.9 L1935.5,330.5 L1935.6,332.3 L1935.8,333.7 L1936.0,335.6 L1936.2,337.3 L1936.5,338.2 L1936.7,340.0 L1936.9,341.6 L1937.1,342.6 L1937.3,344.4 L1937.6,343.2 L1938.0,341.8 L1938.3,339.9 L1938.7,338.4 L1939.0,337.3 L1939.4,335.5 L1939.6,333.9 L1939.9,332.9 L1940.1,331.5 L1940.2,329.6 L1940.4,327.8 L1940.5,326.1 L1940.7,324.3 L1940.8,322.9 L1941.0,320.9 L1941.2,319.3 L1941.3,317.7 L1941.5,316.5 L1941.7,314.8 L1942.6,313.1 L1943.8,312.5 L1945.0,311.2 L1945.3,313.2 L1945.5,314.3 L1945.8,316.1 L1946.1,317.9 L1946.4,319.3 L1946.6,320.9 L1946.9,321.8 L1947.3,323.7 L1947.8,325.4 L1948.4,326.7 L1949.0,328.5 L1949.5,330.5 L1950.0,329.3 L1950.6,327.8 L1951.2,326.5 L1951.7,324.5 L1952.1,322.3 L1952.2,321.4 L1952.3,320.3 L1952.5,318.2 L1952.6,317.2 L1952.7,315.3 L1952.8,314.0 L1952.9,311.9 L1953.0,310.4 L1953.1,308.9 L1953.2,306.9 L1953.3,305.0 L1953.4,303.6 L1953.6,302.0 L1953.7,301.1 L1953.8,299.4 L1954.0,297.8 L1954.2,296.3 L1954.4,294.1 L1954.7,292.7 L1955.0,291.2 L1955.2,289.2 L1955.5,287.4 L1955.8,286.2 L1956.1,285.0 L1956.4,283.7 L1957.3,282.0 L1958.5,280.9 L1959.7,280.2 L1960.8,279.5 L1962.0,278.7 L1963.3,278.1 L1964.7,277.1 L1966.0,276.2 L1966.6,275.5 L1967.4,274.0 L1968.2,272.4 L1969.0,270.8 L1969.8,268.8 L1970.6,267.6 L1971.4,266.0 L1972.0,264.9 L1973.0,263.5 L1974.1,262.0 L1975.1,260.5 L1976.2,259.4 L1977.2,258.6 L1978.6,258.2 L1980.2,257.7 L1981.9,257.8 L1983.3,257.6 L1984.3,258.4 L1985.5,259.6 L1986.6,260.2 L1987.6,262.0 L1988.5,264.0 L1988.8,264.8 L1989.0,266.5 L1989.3,267.3 L1989.6,269.2 L1989.8,270.3 L1990.1,271.9 L1990.4,274.3 L1990.6,275.8 L1990.9,277.3 L1991.1,279.4 L1991.4,281.1 L1991.6,283.0 L1991.8,284.0 L1992.0,285.5 L1992.2,287.5 L1992.4,288.9 L1992.6,290.1 L1992.8,292.0 L1993.0,293.9 L1993.2,296.1 L1993.4,297.9 L1993.6,299.9 L1993.8,301.6 L1994.1,302.9 L1994.3,304.5 L1994.5,305.6 L1994.7,306.6 L1994.9,307.0 L1995.8,307.6 L1996.9,306.2 L1998.0,304.0 L1998.9,301.0 L1999.3,300.5 L1999.6,298.4 L2000.0,297.4 L2000.4,295.6 L2000.8,293.7 L2001.2,292.3 L2001.6,290.3 L2002.0,288.6 L2002.4,287.6 L2002.9,286.2 L2003.5,284.4 L2004.2,282.5 L2004.8,281.0 L2005.5,279.5 L2006.1,278.3 L2006.7,276.8 L2007.5,275.3 L2008.4,273.7 L2009.3,272.0 L2010.2,270.7 L2011.1,270.3 L2012.7,270.6 L2014.7,271.5 L2016.3,272.7 L2017.3,273.4 L2018.5,274.6 L2019.6,275.7 L2020.6,277.1 L2021.7,278.2 L2023.0,279.3 L2024.4,281.2 L2025.8,281.3 L2027.1,281.3 L2028.8,280.5 L2030.5,279.5 L2032.2,278.0 L2033.6,277.8 L2035.1,278.6 L2036.7,278.7 L2038.3,280.1 L2039.7,282.3 L2040.3,283.1 L2040.9,284.6 L2041.6,285.8 L2042.4,287.0 L2043.1,289.0 L2043.9,290.2 L2044.6,291.8 L2045.3,293.5 L2046.0,294.7 L2046.6,296.0 L2047.2,297.4 L2047.7,298.6 L2048.4,300.6 L2049.0,302.0 L2049.7,303.5 L2050.3,304.8 L2051.0,306.6 L2051.7,308.1 L2052.4,309.6 L2053.0,310.8 L2053.6,312.0 L2054.7,313.3 L2055.9,314.0 L2057.3,315.0 L2058.7,316.0 L2060.0,317.2 L2061.2,317.6 L2062.2,318.7 L2063.0,320.1 L2063.8,320.9 L2064.6,322.4 L2065.4,324.5 L2066.1,326.0 L2066.8,327.4 L2067.4,328.8 L2067.8,330.5 L2068.2,331.5 L2068.6,333.0 L2069.1,334.6 L2069.5,336.0 L2070.0,337.2 L2070.5,338.6 L2070.9,340.3 L2071.4,342.1 L2071.8,343.6 L2072.2,344.8 L2072.6,346.1 L2073.0,347.8 L2073.3,349.1 L2073.7,350.5 L2074.2,352.6 L2074.6,353.9 L2075.0,355.2 L2075.5,357.1 L2075.9,359.1 L2076.3,360.3 L2076.7,362.1 L2077.1,362.9 L2077.5,364.3 L2077.8,365.8 L2078.5,367.6 L2079.3,369.7 L2080.0,371.2 L2080.8,373.1 L2081.5,374.4 L2082.2,374.8 L2083.2,375.1 L2084.4,374.0 L2085.5,372.8 L2086.5,370.8 L2086.9,369.5 L2087.4,367.8 L2087.8,366.2 L2088.2,364.8 L2088.7,362.5 L2089.1,360.8 L2089.6,359.4 L2090.0,358.6 L2091.3,357.0 L2092.8,355.6 L2094.3,355.3 L2095.7,355.4 L2097.4,356.8 L2099.0,358.6 L2100.4,358.5 L2101.0,358.0 L2101.7,356.5 L2102.4,354.7 L2103.1,352.9 L2103.7,351.1 L2104.2,350.3 L2104.7,349.1 L2107.0,348.1" fill="none" stroke="#000" stroke-width="8.0" stroke-linejoin="round" stroke-miterlimit="2.7" stroke-linecap="round"/>
<path d="M133.0,690.2 L133.7,690.1 L134.6,689.7 L135.7,690.5 L136.8,690.1 L138.1,690.4 L139.5,689.8 L141.0,689.9 L142.6,689.4 L144.3,689.1 L146.0,689.9 L147.8,689.7 L149.6,689.0 L151.4,689.5 L153.2,689.3 L155.0,688.6 L156.8,688.8 L158.6,689.0 L160.4,688.5 L162.1,688.8 L163.7,688.0 L165.2,688.0 L166.7,688.2 L167.9,687.6 L169.2,687.6 L170.6,688.1 L172.0,687.6 L173.5,687.8 L175.1,687.1 L176.7,686.9 L178.3,686.9 L179.9,686.6 L181.6,687.3 L183.3,686.4 L185.0,686.6 L186.7,686.0 L188.4,686.3 L190.1,686.0 L191.8,685.8 L193.5,685.4 L195.2,685.3 L196.8,685.9 L198.4,685.2 L199.9,685.0 L201.4,684.8 L202.8,684.8 L204.2,684.6 L205.5,684.3 L206.7,684.9 L208.1,684.4 L209.6,684.1 L211.1,684.5 L212.7,683.8 L214.3,683.8 L215.9,684.2 L217.5,683.4 L219.1,683.6 L220.8,683.8 L222.4,683.6 L224.0,682.8 L225.7,682.9 L227.3,683.1 L228.9,682.6 L230.4,683.1 L232.0,682.2 L233.4,682.9 L234.9,682.3 L236.2,681.9 L237.6,682.1 L238.8,681.7 L240.0,682.2 L241.5,681.7 L243.1,682.3 L244.8,681.9 L246.5,681.6 L248.2,681.5 L250.0,681.8 L251.8,681.4 L253.5,682.0 L255.3,681.3 L257.0,681.6 L258.6,681.7 L260.2,681.4 L261.7,682.0 L263.1,681.6 L264.4,682.0 L265.6,682.0 L266.7,681.8 L268.5,682.1 L270.3,682.1 L271.9,682.6 L273.5,683.7 L275.0,683.6 L276.3,684.5 L277.7,684.5 L278.9,685.6 L280.0,686.2 L281.0,687.1 L282.1,687.9 L283.3,688.9 L284.4,690.5 L285.6,691.8 L286.7,693.1 L287.7,695.1 L288.6,695.9 L289.4,697.1 L290.0,698.4 L291.2,700.0 L291.7,701.4 L292.3,703.7 L292.5,703.9 L292.8,705.2 L293.1,706.3 L293.4,708.5 L293.7,710.1 L294.0,711.5 L294.3,713.4 L294.6,715.4 L295.0,717.2 L295.3,718.4 L295.5,720.5 L295.8,721.5 L296.0,723.0 L296.3,724.0 L296.6,725.5 L296.9,727.9 L297.1,729.4 L297.4,731.1 L297.7,732.2 L298.0,733.8 L298.3,735.6 L298.6,737.2 L298.8,738.7 L299.1,740.1 L299.3,740.8 L299.6,742.8 L300.0,745.0 L300.3,746.4 L300.6,748.8 L301.0,750.1 L301.3,751.7 L301.7,752.4 L302.1,753.4 L303.6,754.8 L305.6,754.5 L307.1,753.0 L307.5,753.0 L307.9,751.6 L308.3,749.5 L308.7,747.5 L309.0,746.5 L309.4,744.5 L309.6,742.2 L309.9,741.0 L310.2,739.4 L310.4,738.3 L310.7,735.8 L310.9,734.6 L311.1,732.8 L311.4,730.6 L311.6,730.2 L312.6,727.8 L313.8,727.7 L314.7,728.6 L315.9,729.4 L317.1,730.7 L318.3,732.5 L320.0,732.6 L322.1,733.4 L323.9,733.7 L324.9,734.6 L326.1,735.8 L327.4,736.9 L328.6,737.8 L329.6,738.1 L331.4,738.5 L333.4,737.4 L335.2,737.0 L336.9,737.7 L338.7,737.6 L340.1,739.5 L340.6,739.8 L341.1,741.9 L341.5,743.8 L342.0,745.0 L342.4,747.0 L342.9,748.8 L343.6,749.9 L344.4,751.4 L345.3,752.7 L346.2,754.2 L347.1,756.2 L347.6,754.3 L348.2,752.6 L348.7,750.5 L349.2,748.9 L349.8,747.0 L350.3,746.2 L350.7,745.0 L351.5,743.0 L352.4,741.6 L353.3,740.8 L354.2,739.8 L355.4,739.1 L356.9,737.4 L359.1,736.8 L360.2,737.4 L361.5,736.7 L363.1,737.2 L364.8,737.1 L366.6,737.8 L368.4,737.8 L370.1,738.3 L371.8,737.9 L373.2,738.7 L374.6,738.9 L376.1,739.1 L377.7,739.7 L379.4,740.2 L381.0,739.9 L382.7,740.6 L384.3,741.1 L385.8,741.3 L387.2,741.6 L388.5,742.2 L389.8,742.5 L391.2,743.5 L392.6,743.7 L394.1,743.9 L395.7,744.6 L397.4,745.2 L399.2,745.6 L401.3,745.9 L402.3,746.0 L403.4,746.1 L404.6,747.3 L406.0,747.3 L407.4,746.9 L408.9,747.8 L410.4,748.4 L412.1,748.2 L413.7,748.1 L415.4,748.7 L417.2,749.0 L418.9,749.0 L420.6,749.6 L422.4,749.4 L424.1,750.5 L425.8,750.5 L427.4,750.7 L429.0,751.2 L430.5,751.1 L431.9,750.9 L433.3,751.0 L434.6,751.1 L435.9,751.1 L437.3,752.0 L438.8,752.1 L440.3,751.7 L441.8,751.7 L443.4,752.3 L445.0,752.6 L446.6,752.8 L448.3,752.1 L449.9,752.8 L451.6,753.0 L453.2,752.9 L454.8,752.6 L456.5,752.5 L458.0,753.2 L459.6,752.7 L461.1,752.8 L462.6,753.0 L464.0,752.9 L465.4,753.3 L466.7,752.7 L468.0,752.5 L469.3,753.0 L470.7,753.0 L472.1,753.2 L473.5,753.0 L474.9,753.1 L476.4,753.0 L477.9,752.5 L479.4,752.4 L480.9,751.9 L482.5,751.9 L484.0,752.1 L485.6,751.4 L487.2,751.9 L488.8,751.3 L490.4,751.4 L492.0,751.8 L493.6,750.8 L495.2,750.6 L496.8,750.9 L498.4,750.5 L500.0,750.9 L501.1,750.1 L502.3,750.9 L503.5,750.8 L504.8,750.7 L506.1,750.2 L507.5,750.0 L508.9,750.3 L510.4,750.0 L511.9,749.9 L513.5,749.7 L515.0,749.7 L516.6,749.8 L518.3,749.9 L519.9,749.8 L521.6,749.0 L523.3,749.0 L525.0,749.0 L526.7,749.1 L528.4,748.7 L530.0,748.5 L531.7,748.2 L533.4,748.4 L535.1,748.4 L536.7,748.8 L538.3,748.6 L539.9,748.5 L541.5,748.5 L543.0,748.3 L544.5,747.9 L545.9,747.9 L547.3,747.1 L548.7,747.6 L550.0,747.4 L551.3,747.0 L552.6,747.1 L554.0,747.4 L555.4,746.8 L556.9,746.8 L558.3,746.3 L559.8,746.2 L561.4,746.6 L562.9,745.6 L564.5,745.6 L566.1,746.0 L567.7,745.6 L569.3,745.1 L570.9,745.5 L572.5,745.0 L574.2,745.1 L575.8,744.7 L577.5,744.7 L579.1,744.5 L580.7,744.2 L582.3,743.7 L583.9,743.6 L585.5,744.1 L587.1,743.6 L588.6,743.0 L590.2,743.6 L591.7,742.8 L593.1,742.5 L594.6,742.7 L596.0,742.3 L597.4,742.3 L598.7,742.2 L600.0,741.7 L601.3,741.9 L602.7,741.3 L604.1,741.5 L605.5,741.3 L607.0,740.6 L608.5,740.7 L610.1,740.1 L611.7,740.3 L613.3,740.5 L614.9,739.9 L616.6,739.8 L618.3,739.6 L620.0,738.7 L621.6,739.3 L623.3,738.8 L625.0,737.9 L626.7,738.3 L628.4,737.6 L630.1,737.1 L631.7,737.6 L633.4,737.0 L635.0,736.9 L636.5,736.0 L638.1,736.4 L639.6,735.4 L641.1,735.3 L642.5,735.2 L643.9,734.6 L645.2,735.0 L646.5,734.4 L647.7,734.2 L648.9,734.4 L650.0,733.9 L651.6,734.1 L653.2,733.5 L654.9,733.4 L656.6,732.7 L658.3,732.7 L660.0,732.2 L661.7,731.1 L663.4,731.3 L665.1,730.5 L666.8,730.5 L668.4,730.0 L670.0,729.7 L671.6,728.6 L673.1,728.5 L674.6,728.5 L676.1,728.4 L677.5,727.8 L678.8,726.8 L680.0,727.1 L681.2,726.3 L682.3,726.5 L683.3,726.6 L685.2,725.6 L687.0,726.1 L688.7,725.6 L690.4,724.9 L692.0,724.7 L693.6,724.8 L695.0,725.1 L696.4,724.8 L697.7,724.3 L698.9,724.2 L700.0,724.3 L701.6,725.2 L703.2,724.9 L704.7,725.7 L706.3,726.0 L707.8,727.0 L709.4,727.3 L711.0,727.6 L712.2,728.8 L713.5,728.9 L715.1,729.7 L716.7,730.4 L718.4,731.2 L720.2,730.9 L721.9,731.9 L723.6,732.3 L725.1,733.2 L726.5,734.0 L727.7,734.3 L729.4,734.0 L731.1,734.5 L732.8,735.4 L734.5,735.5 L736.1,735.4 L737.8,735.7 L739.5,736.0 L740.9,734.7 L742.3,734.5 L743.7,733.1 L745.1,732.7 L746.5,731.5 L747.9,730.1 L749.3,729.5 L750.5,728.7 L751.8,728.6 L753.3,727.4 L754.9,726.0 L756.5,725.2 L758.2,724.5 L759.8,723.9 L761.3,723.5 L762.7,722.9 L764.0,722.7 L765.4,722.5 L767.0,723.3 L768.6,723.3 L770.3,723.4 L772.0,724.1 L773.6,724.9 L775.1,724.0 L776.5,724.0 L777.7,724.2 L778.7,723.1 L779.8,722.2 L780.8,721.3 L781.9,719.8 L783.0,718.7 L784.0,717.2 L785.1,716.1 L786.2,714.7 L787.2,712.4 L788.3,711.7 L789.3,711.0 L790.4,710.2 L791.5,709.2 L792.7,708.1 L794.0,707.2 L795.3,706.0 L796.7,705.0 L798.2,704.6 L799.6,703.8 L801.2,703.1 L802.7,702.1 L804.3,701.1 L805.3,701.2 L806.4,700.8 L807.6,700.2 L808.8,699.9 L810.2,699.3 L811.5,699.1 L813.0,698.6 L814.5,697.9 L816.0,697.8 L817.6,697.4 L819.2,697.7 L820.8,696.8 L822.5,696.4 L824.2,695.9 L825.9,695.5 L827.6,695.3 L829.3,694.7 L831.0,694.2 L832.0,694.9 L833.1,694.2 L834.3,694.0 L835.6,693.9 L836.9,693.4 L838.2,693.0 L839.6,692.6 L841.1,692.6 L842.6,692.3 L844.1,692.5 L845.7,692.0 L847.3,692.1 L849.0,691.2 L850.6,691.5 L852.3,690.9 L854.0,690.1 L855.7,689.9 L857.4,690.0 L859.0,690.1 L860.7,689.2 L862.4,689.3 L864.1,688.7 L865.7,688.8 L867.4,687.8 L868.9,687.9 L870.5,688.0 L872.0,687.1 L873.5,686.8 L875.0,686.3 L876.4,686.2 L877.7,686.1 L879.0,686.3 L880.3,685.5 L881.6,685.5 L883.0,685.0 L884.4,685.2 L885.9,685.2 L887.4,684.7 L888.9,683.9 L890.4,684.2 L892.0,684.1 L893.6,683.5 L895.2,682.7 L896.8,683.1 L898.4,682.9 L900.1,682.0 L901.7,681.5 L903.4,681.3 L905.0,681.3 L906.6,681.3 L908.3,680.8 L909.9,680.7 L911.5,679.7 L913.1,679.5 L914.7,679.6 L916.3,679.1 L917.8,678.6 L919.3,678.5 L920.8,677.8 L922.3,677.2 L923.7,677.2 L925.1,676.5 L926.4,676.8 L927.7,676.1 L928.9,676.0 L930.2,675.7 L931.5,675.0 L932.8,674.8 L934.2,674.0 L935.6,674.4 L937.0,673.6 L938.5,673.6 L940.0,672.2 L941.5,672.3 L943.0,671.9 L944.5,671.0 L946.1,670.3 L947.6,669.8 L949.2,669.3 L950.8,669.4 L952.3,668.2 L953.9,668.3 L955.5,667.4 L957.0,667.0 L958.6,666.5 L960.1,665.9 L961.6,665.5 L963.1,664.9 L964.6,664.1 L966.1,664.0 L967.5,663.1 L968.9,663.0 L970.3,662.6 L971.6,662.1 L972.9,661.2 L974.2,661.2 L975.4,661.0 L976.6,660.0 L977.7,659.5 L979.1,659.2 L980.5,659.2 L981.9,657.8 L983.4,657.2 L985.0,657.1 L986.5,656.7 L988.1,656.2 L989.7,655.2 L991.4,655.2 L993.0,653.8 L994.7,653.7 L996.3,652.4 L998.0,651.7 L999.6,651.2 L1001.2,650.5 L1002.8,650.4 L1004.4,649.8 L1006.0,648.9 L1007.5,649.0 L1009.0,647.9 L1010.4,647.1 L1011.8,646.6 L1013.1,646.7 L1014.4,646.4 L1015.6,645.2 L1016.8,644.6 L1017.8,645.0 L1018.8,644.1 L1019.7,644.5 L1021.9,643.2 L1023.9,642.6 L1025.9,641.6 L1027.7,641.4 L1029.3,640.5 L1030.9,639.8 L1032.3,639.9 L1033.6,638.7 L1034.7,638.9 L1035.8,637.9 L1036.7,638.2 L1039.2,637.4 L1040.7,637.8 L1042.0,637.3 L1043.4,638.3 L1044.7,639.2 L1045.9,641.1 L1046.4,642.2 L1047.0,643.4 L1047.6,644.7 L1048.1,646.5 L1048.7,648.2 L1049.2,649.8 L1049.8,651.1 L1050.5,652.7 L1051.2,654.9 L1051.9,656.5 L1052.6,657.7 L1053.1,659.6 L1053.8,660.5 L1054.5,662.6 L1055.2,663.7 L1055.8,665.2 L1057.2,664.7 L1058.4,662.1 L1058.6,661.4 L1058.8,659.8 L1059.0,657.4 L1059.1,655.5 L1059.2,653.9 L1059.4,652.9 L1059.7,650.4 L1060.0,649.1 L1060.5,647.5 L1061.0,646.5 L1062.2,646.7 L1063.7,647.9 L1065.0,648.3 L1066.1,650.5 L1067.1,651.9 L1068.2,653.4 L1069.4,653.2 L1070.9,651.4 L1072.2,650.9 L1073.3,649.8 L1074.5,647.6 L1075.7,645.7 L1076.8,644.2 L1077.5,643.8 L1078.3,641.4 L1079.2,640.7 L1080.0,638.4 L1080.7,637.6 L1081.4,635.8 L1082.1,634.5 L1082.9,633.6 L1083.8,631.6 L1084.6,630.5 L1085.3,629.9 L1086.2,628.4 L1087.3,627.2 L1088.4,625.9 L1089.5,623.7 L1090.6,622.7 L1091.7,622.1 L1093.0,620.7 L1094.4,618.8 L1095.8,618.0 L1097.1,616.8 L1098.4,616.3 L1099.9,615.3 L1101.5,614.6 L1103.2,614.9 L1105.0,613.6 L1106.1,613.8 L1107.3,612.6 L1108.6,612.5 L1110.1,611.6 L1111.6,611.4 L1113.2,610.6 L1114.8,610.5 L1116.5,609.4 L1118.1,609.4 L1119.1,608.9 L1120.0,608.2 L1121.0,608.1 L1122.0,608.0 L1123.1,608.1 L1124.2,607.2 L1125.4,606.7 L1126.7,607.1 L1128.1,606.5 L1129.6,605.9 L1131.3,604.9 L1133.2,604.1 L1135.3,603.5 L1137.5,602.5 L1140.0,601.5 L1140.8,601.7 L1141.7,601.3 L1142.6,601.1 L1143.6,600.5 L1144.7,599.7 L1145.8,600.0 L1147.0,599.5 L1148.2,598.9 L1149.4,598.4 L1150.8,598.0 L1152.1,597.8 L1153.5,597.2 L1154.9,596.4 L1156.4,595.5 L1157.9,594.9 L1159.4,594.4 L1160.9,594.3 L1162.5,593.1 L1164.1,592.5 L1165.7,591.9 L1167.4,590.9 L1169.0,591.1 L1170.7,589.5 L1172.3,589.4 L1174.0,589.1 L1175.7,587.8 L1177.4,587.5 L1179.1,586.6 L1180.8,585.8 L1182.4,585.1 L1184.1,584.3 L1185.8,584.4 L1187.4,583.7 L1189.0,583.2 L1190.7,581.7 L1192.2,581.8 L1193.8,580.8 L1195.4,580.5 L1196.9,579.9 L1198.4,579.1 L1199.8,579.2 L1201.2,577.7 L1202.6,577.9 L1204.0,577.5 L1205.2,576.7 L1206.5,576.4 L1207.7,576.3 L1208.9,575.2 L1210.0,575.2 L1211.0,574.9 L1212.5,574.1 L1214.0,573.9 L1215.6,573.1 L1217.1,572.8 L1218.7,572.4 L1220.2,572.0 L1221.8,571.2 L1223.4,571.1 L1225.0,570.6 L1226.6,569.9 L1228.2,569.9 L1229.8,569.1 L1231.3,569.4 L1232.9,568.5 L1234.5,568.4 L1236.1,567.8 L1237.6,567.4 L1239.2,566.8 L1240.7,566.3 L1242.2,566.7 L1243.7,566.0 L1245.2,565.6 L1246.7,565.2 L1248.1,565.2 L1249.6,564.2 L1250.9,563.8 L1252.3,564.1 L1253.7,563.4 L1255.0,563.2 L1256.2,563.1 L1257.5,562.8 L1258.7,562.4 L1259.9,561.2 L1261.0,561.2 L1262.4,561.2 L1263.8,560.7 L1265.2,559.4 L1266.7,558.9 L1268.2,558.4 L1269.7,557.7 L1271.2,557.3 L1272.7,557.1 L1274.3,556.2 L1275.8,555.5 L1277.4,554.4 L1278.9,554.1 L1280.5,554.0 L1282.0,553.0 L1283.6,552.1 L1285.1,551.5 L1286.6,551.2 L1288.1,550.5 L1289.6,549.3 L1291.0,549.2 L1292.4,548.3 L1293.8,547.9 L1295.1,547.1 L1296.4,546.7 L1297.6,546.3 L1298.8,545.9 L1299.9,545.1 L1301.0,545.0 L1302.5,545.0 L1304.1,544.1 L1305.7,543.9 L1307.3,544.1 L1309.0,543.4 L1310.7,543.3 L1312.5,543.0 L1314.2,543.4 L1315.9,542.5 L1317.6,542.9 L1319.2,542.9 L1320.8,542.1 L1322.4,542.2 L1323.9,542.4 L1325.3,542.1 L1326.7,541.6 L1327.9,541.1 L1329.1,541.2 L1330.1,540.9 L1331.0,540.9 L1332.7,539.6 L1334.2,538.6 L1335.5,537.5 L1336.6,536.2 L1337.5,534.3 L1338.4,532.8 L1339.3,531.7 L1340.1,531.0 L1341.0,529.4 L1342.3,529.3 L1343.7,528.3 L1345.2,527.3 L1346.7,527.1 L1348.2,526.4 L1349.6,525.9 L1351.0,526.6 L1352.2,526.3 L1353.7,526.8 L1355.2,527.2 L1356.8,528.1 L1358.4,528.7 L1359.9,528.8 L1361.4,530.3 L1362.7,531.3 L1363.5,532.0 L1364.3,533.3 L1365.2,533.9 L1366.2,535.1 L1367.1,536.7 L1368.1,537.6 L1369.1,539.0 L1370.0,540.5 L1371.0,542.3 L1371.9,543.6 L1372.8,545.2 L1373.6,546.4 L1374.3,547.5 L1374.7,549.2 L1375.2,550.1 L1375.7,551.5 L1376.1,552.8 L1376.6,553.5 L1377.1,555.0 L1377.6,556.3 L1378.1,558.5 L1378.6,559.4 L1379.1,560.9 L1379.6,563.2 L1380.1,564.6 L1380.6,565.7 L1381.1,567.9 L1381.6,569.5 L1382.1,570.9 L1382.6,572.0 L1383.0,574.1 L1383.5,575.2 L1383.9,576.8 L1384.3,578.5 L1384.7,579.5 L1385.1,580.8 L1385.5,581.4 L1385.9,582.9 L1386.3,584.5 L1386.8,585.4 L1387.2,587.9 L1387.7,588.7 L1388.1,590.2 L1388.6,591.8 L1389.1,593.3 L1389.5,595.4 L1390.0,596.7 L1390.5,598.2 L1390.9,599.7 L1391.4,600.9 L1391.8,602.6 L1392.3,604.7 L1392.7,606.1 L1393.1,607.6 L1393.5,608.4 L1393.9,609.7 L1394.3,610.9 L1394.6,612.5 L1395.0,613.7 L1395.4,615.1 L1395.8,616.5 L1396.1,618.0 L1396.5,619.3 L1397.0,621.2 L1397.4,622.2 L1397.8,624.5 L1398.2,625.7 L1398.7,626.8 L1399.1,628.7 L1399.5,630.5 L1399.9,632.0 L1400.4,633.7 L1400.8,635.1 L1401.2,636.6 L1401.6,638.7 L1402.1,639.7 L1402.5,641.6 L1402.8,643.1 L1403.2,644.3 L1403.6,645.5 L1404.0,647.2 L1404.3,647.9 L1404.7,649.7 L1405.1,650.2 L1405.5,652.1 L1405.9,653.8 L1406.4,654.7 L1406.8,657.1 L1407.3,657.9 L1407.7,660.0 L1408.2,661.2 L1408.7,663.6 L1409.2,664.8 L1409.7,666.7 L1410.1,668.0 L1410.6,669.7 L1411.1,671.3 L1411.5,672.4 L1412.0,673.8 L1412.4,675.8 L1412.8,676.4 L1413.2,678.4 L1413.6,678.9 L1414.0,679.9 L1414.3,680.9 L1414.9,683.3 L1415.5,685.1 L1416.1,686.2 L1416.6,688.1 L1417.2,689.3 L1417.8,691.5 L1418.5,692.8 L1419.1,693.7 L1419.7,695.0 L1420.2,696.9 L1420.8,697.5 L1421.4,699.4 L1422.0,699.8 L1422.9,701.0 L1423.9,702.6 L1425.1,703.6 L1426.3,705.0 L1427.5,705.7 L1428.7,707.5 L1429.9,707.8 L1431.0,709.2 L1432.0,709.4 L1433.3,710.9 L1434.6,711.9 L1436.1,712.1 L1437.6,712.6 L1439.1,713.8 L1440.6,715.2 L1442.0,716.0 L1442.7,717.1 L1443.6,717.6 L1444.5,719.1 L1445.4,720.6 L1446.4,721.5 L1447.4,723.1 L1448.5,724.0 L1449.5,726.1 L1450.6,726.8 L1451.6,728.9 L1452.6,730.3 L1453.6,731.4 L1454.5,732.1 L1455.3,732.8 L1456.3,733.9 L1457.3,735.4 L1458.5,736.3 L1459.7,738.0 L1460.9,738.3 L1462.1,739.9 L1463.3,741.4 L1464.5,742.2 L1465.7,743.1 L1466.8,743.5 L1467.8,744.3 L1468.7,745.1 L1470.3,746.5 L1471.9,747.2 L1473.6,747.1 L1475.4,748.2 L1477.1,747.5 L1478.7,748.2 L1480.3,748.5 L1481.6,747.7 L1483.0,748.0 L1484.5,747.2 L1486.1,746.1 L1487.7,745.8 L1489.3,745.2 L1490.9,744.3 L1492.4,744.0 L1493.7,742.7 L1494.8,742.6 L1495.9,741.2 L1497.2,740.0 L1498.5,739.5 L1499.8,737.9 L1501.1,737.1 L1502.4,736.2 L1503.7,734.8 L1504.9,733.5 L1506.0,731.9 L1507.0,731.3 L1507.9,729.9 L1508.9,729.2 L1509.9,727.4 L1511.0,726.4 L1512.0,724.7 L1513.1,723.3 L1514.2,722.1 L1515.2,720.2 L1516.2,718.9 L1517.1,718.5 L1517.9,716.9 L1518.7,716.6 L1520.1,715.4 L1521.5,713.9 L1522.9,712.7 L1524.2,712.0 L1525.6,712.5 L1527.0,711.6 L1528.1,712.2 L1529.5,712.7 L1530.9,712.9 L1532.4,714.0 L1534.0,714.6 L1535.6,715.8 L1537.2,716.6 L1538.7,717.2 L1539.9,717.5 L1541.3,718.2 L1542.8,718.6 L1544.5,719.1 L1546.2,719.9 L1548.0,721.2 L1549.7,721.4 L1551.3,722.5 L1552.8,722.3 L1554.2,723.8 L1555.3,724.0 L1556.7,725.3 L1558.0,726.2 L1559.3,727.7 L1560.6,728.6 L1561.8,730.4 L1563.0,731.0 L1564.2,732.1 L1565.3,732.5 L1566.7,733.3 L1568.4,733.7 L1570.1,733.5 L1572.0,734.0 L1573.8,733.1 L1575.5,733.3 L1577.0,732.7 L1578.3,732.8 L1579.7,732.5 L1581.2,731.8 L1582.8,730.4 L1584.3,730.0 L1585.9,729.7 L1587.3,729.5 L1588.7,728.2 L1590.1,728.6 L1591.8,728.4 L1593.5,728.4 L1595.3,727.8 L1597.2,728.1 L1598.9,727.8 L1600.6,728.3 L1602.0,727.5 L1603.3,728.7 L1604.7,728.6 L1606.1,729.2 L1607.6,729.5 L1609.1,730.3 L1610.6,731.4 L1612.1,731.8 L1613.7,731.7 L1614.8,732.0 L1616.2,731.9 L1617.6,732.0 L1619.2,732.0 L1620.9,732.1 L1622.6,732.8 L1624.3,732.8 L1626.0,732.6 L1627.7,732.4 L1629.2,732.5 L1630.7,733.0 L1632.0,733.4 L1633.3,733.7 L1634.6,734.1 L1636.1,734.3 L1637.6,735.4 L1639.1,736.4 L1640.6,737.2 L1642.1,737.3 L1643.6,738.8 L1645.0,739.2 L1646.3,739.7 L1647.6,741.2 L1648.7,741.5 L1650.1,742.2 L1651.5,742.3 L1653.0,743.8 L1654.4,744.6 L1655.9,745.3 L1657.4,745.8 L1658.9,746.5 L1660.5,747.1 L1662.0,747.4 L1663.2,747.6 L1664.5,748.2 L1666.0,748.5 L1667.6,748.9 L1669.2,748.6 L1671.0,749.5 L1672.7,749.4 L1674.4,750.1 L1676.1,749.6 L1677.8,750.7 L1679.3,750.9 L1680.7,750.7 L1682.0,751.6 L1683.3,751.5 L1684.7,751.9 L1686.1,752.7 L1687.6,753.1 L1689.1,753.9 L1690.5,755.0 L1692.0,755.4 L1693.4,756.1 L1694.8,756.5 L1696.2,757.6 L1697.5,758.3 L1698.7,758.9 L1699.8,759.8 L1701.0,760.5 L1702.3,761.0 L1703.7,761.7 L1705.1,763.3 L1706.5,764.5 L1707.9,765.1 L1709.3,766.4 L1710.6,767.7 L1711.9,768.6 L1713.1,768.7 L1714.3,770.0 L1715.3,770.2 L1716.7,771.2 L1718.3,772.7 L1719.8,773.2 L1721.4,774.1 L1723.0,774.8 L1724.5,775.3 L1726.0,775.9 L1727.4,776.6 L1728.7,777.6 L1730.0,777.9 L1731.5,778.1 L1733.0,778.4 L1734.6,779.0 L1736.2,779.9 L1737.7,780.1 L1739.3,780.7 L1740.7,781.2 L1742.0,780.9 L1743.3,781.9 L1744.7,781.6 L1746.2,782.8 L1747.8,782.6 L1749.3,783.2 L1750.9,784.3 L1752.5,784.0 L1753.9,784.2 L1755.3,785.1 L1756.6,785.0 L1757.9,785.4 L1759.4,785.0 L1760.9,785.2 L1762.5,785.7 L1764.1,785.3 L1765.7,785.8 L1767.3,785.0 L1768.9,785.7 L1770.3,785.0 L1771.5,785.3 L1772.9,784.7 L1774.4,784.8 L1775.9,785.4 L1777.5,784.8 L1779.2,785.0 L1780.8,784.3 L1782.5,784.3 L1784.1,783.9 L1785.7,784.2 L1787.3,784.4 L1788.7,784.0 L1790.0,783.8 L1791.4,784.4 L1793.0,784.3 L1794.7,784.1 L1796.4,783.5 L1798.2,784.0 L1799.9,783.8 L1801.7,784.3 L1803.4,783.7 L1805.0,784.0 L1806.5,784.0 L1807.9,783.7 L1809.0,783.8 L1810.0,784.0 L1812.5,784.2 L1814.4,783.8 L1815.9,783.5 L1817.3,783.5 L1818.2,781.8 L1819.3,781.6 L1820.3,780.3 L1821.5,778.8 L1822.5,777.3 L1823.6,776.1 L1824.5,774.7 L1825.1,773.5 L1825.7,772.3 L1826.4,770.2 L1827.1,769.0 L1827.8,767.3 L1828.5,766.5 L1829.2,764.8 L1829.9,762.4 L1830.6,761.3 L1831.2,759.8 L1831.8,757.8 L1832.3,757.0 L1832.8,756.0 L1833.4,754.4 L1834.0,752.5 L1834.6,751.4 L1835.2,749.3 L1835.8,747.9 L1836.4,746.2 L1837.0,745.2 L1837.6,743.3 L1838.2,742.1 L1838.6,740.7 L1839.1,739.3 L1839.7,738.3 L1840.4,736.4 L1841.1,734.8 L1841.8,732.7 L1842.5,731.0 L1843.2,729.9 L1843.8,728.8 L1844.4,727.6 L1844.9,726.1 L1846.0,724.1 L1847.2,722.9 L1848.3,722.1 L1849.3,720.9 L1850.7,722.1 L1852.3,723.2 L1853.6,724.7 L1854.8,725.6 L1856.1,727.0 L1857.3,727.7 L1858.6,727.8 L1860.2,726.8 L1861.6,726.0 L1862.4,727.0 L1863.4,729.1 L1864.4,730.1 L1865.3,731.9 L1866.0,733.5 L1866.6,734.6 L1867.2,736.4 L1867.8,738.2 L1868.3,739.7 L1868.7,741.5 L1869.4,742.9 L1870.2,744.2 L1871.8,745.4 L1873.3,744.5 L1873.9,743.6 L1874.4,741.5 L1874.8,739.3 L1875.0,737.7 L1875.1,736.3 L1875.3,735.4 L1875.5,733.5 L1875.6,731.8 L1875.8,730.1 L1876.0,728.4 L1876.2,726.1 L1876.3,725.0 L1876.4,724.3 L1876.6,722.4 L1876.7,720.6 L1876.8,719.3 L1877.0,717.2 L1877.1,715.9 L1877.3,713.4 L1877.4,712.4 L1877.6,710.4 L1877.8,708.6 L1878.0,707.6 L1878.1,705.5 L1878.3,704.2 L1878.5,702.5 L1878.8,701.4 L1879.1,699.9 L1879.5,698.1 L1879.8,696.0 L1880.2,694.7 L1880.5,692.4 L1880.9,691.0 L1881.3,689.8 L1881.7,688.8 L1882.0,687.2 L1882.5,685.8 L1883.1,684.3 L1883.7,682.4 L1884.4,681.4 L1885.1,679.7 L1885.7,677.9 L1886.4,676.6 L1887.1,675.7 L1887.7,674.1 L1888.5,672.7 L1889.3,672.0 L1890.2,670.3 L1891.1,668.9 L1892.0,667.7 L1892.9,666.6 L1893.6,664.6 L1894.3,663.6 L1895.0,662.1 L1895.8,661.0 L1896.5,659.6 L1897.3,658.4 L1898.1,656.6 L1898.8,655.0 L1899.6,653.4 L1900.2,652.3 L1900.9,650.6 L1901.6,649.7 L1902.3,648.0 L1903.1,646.4 L1903.9,644.1 L1904.6,643.1 L1905.4,641.8 L1906.0,640.5 L1907.1,639.4 L1908.2,638.0 L1909.5,636.6 L1910.7,635.7 L1911.8,634.8 L1913.3,634.6 L1915.0,633.7 L1916.8,634.5 L1918.3,635.2 L1919.2,635.9 L1920.3,636.7 L1921.3,637.9 L1922.4,640.0 L1923.3,641.9 L1924.1,643.2 L1924.5,644.2 L1924.8,645.5 L1925.2,646.9 L1925.6,649.0 L1926.0,651.0 L1926.3,652.6 L1926.7,654.0 L1927.0,656.1 L1927.3,657.2 L1927.6,659.7 L1927.8,660.7 L1928.0,661.6 L1928.2,663.6 L1928.3,664.5 L1928.5,666.2 L1928.7,667.5 L1928.8,669.5 L1929.0,671.2 L1929.2,673.2 L1929.3,674.1 L1929.5,676.6 L1929.6,677.5 L1929.7,679.3 L1929.9,681.3 L1930.0,682.5 L1930.1,683.7 L1930.2,685.3 L1930.3,686.3 L1930.4,688.4 L1930.5,689.3 L1930.6,691.6 L1930.7,693.2 L1930.8,694.6 L1930.9,695.8 L1931.0,698.3 L1931.2,699.3 L1931.3,701.5 L1931.4,703.1 L1931.5,704.3 L1931.6,706.5 L1931.7,708.1 L1931.7,709.3 L1931.8,710.5 L1931.9,711.8 L1932.0,713.4 L1932.1,714.6 L1932.2,716.9 L1932.3,718.8 L1932.4,720.3 L1932.5,722.2 L1932.6,723.3 L1932.7,725.7 L1932.8,726.5 L1932.9,728.5 L1933.0,729.7 L1933.1,731.4 L1933.2,733.0 L1933.2,734.2 L1933.3,735.1 L1933.4,736.9 L1933.5,738.6 L1933.6,740.5 L1933.6,742.0 L1933.7,743.5 L1933.7,745.6 L1933.8,747.0 L1934.5,745.5 L1935.3,743.9 L1936.1,742.2 L1936.8,741.2 L1937.5,739.2 L1938.0,737.8 L1938.4,736.6 L1938.7,735.1 L1938.9,733.5 L1939.2,731.4 L1939.5,729.7 L1939.8,728.1 L1940.1,726.5 L1940.7,724.9 L1941.4,722.7 L1942.2,721.4 L1943.0,719.7 L1943.8,718.7 L1944.1,720.6 L1944.4,722.1 L1944.7,723.7 L1945.0,725.0 L1945.3,726.6 L1945.5,727.9 L1945.8,729.7 L1946.0,731.2 L1946.4,732.4 L1946.7,734.0 L1947.1,735.9 L1947.4,738.0 L1947.8,736.3 L1948.3,735.4 L1948.8,733.9 L1949.2,732.1 L1949.6,730.2 L1950.0,728.5 L1950.3,726.7 L1950.4,726.2 L1950.5,724.7 L1950.6,723.9 L1950.7,722.3 L1950.8,720.6 L1950.9,718.6 L1951.0,717.3 L1951.1,714.8 L1951.2,713.1 L1951.3,711.8 L1951.4,710.1 L1951.5,708.2 L1951.6,706.8 L1951.7,705.2 L1951.8,704.9 L1951.9,703.1 L1952.1,701.7 L1952.3,700.0 L1952.5,697.7 L1952.7,696.2 L1952.9,694.1 L1953.1,692.9 L1953.3,691.3 L1953.5,689.1 L1953.8,687.7 L1954.0,686.8 L1954.5,685.4 L1955.2,683.6 L1956.0,681.7 L1956.8,681.1 L1957.6,679.8 L1958.3,678.3 L1959.1,676.7 L1960.1,676.5 L1961.2,675.0 L1962.3,673.3 L1963.3,672.3 L1964.1,671.2 L1964.6,670.4 L1965.1,668.7 L1965.6,667.3 L1966.1,665.3 L1966.6,663.7 L1967.1,662.7 L1967.6,660.6 L1968.1,658.9 L1968.5,658.1 L1969.0,656.2 L1969.5,654.8 L1970.1,653.4 L1970.6,651.9 L1971.2,650.4 L1971.8,649.0 L1972.4,647.4 L1972.9,646.0 L1973.9,645.0 L1975.1,642.6 L1976.4,641.5 L1977.6,640.2 L1978.7,640.0 L1980.0,640.3 L1981.4,640.9 L1982.7,643.0 L1983.8,645.1 L1984.1,645.9 L1984.5,646.8 L1984.8,649.1 L1985.1,650.4 L1985.4,651.6 L1985.7,653.6 L1985.9,656.2 L1986.2,657.2 L1986.5,659.1 L1986.7,661.2 L1986.9,662.4 L1987.1,663.6 L1987.3,665.2 L1987.5,666.1 L1987.7,667.8 L1987.9,670.4 L1988.1,672.0 L1988.4,672.9 L1988.6,674.7 L1988.8,676.6 L1989.0,678.9 L1989.2,679.7 L1989.4,681.6 L1989.6,683.1 L1989.8,684.3 L1990.1,686.3 L1990.3,687.4 L1990.6,689.1 L1990.9,690.7 L1991.1,693.3 L1991.4,694.4 L1991.7,697.0 L1991.9,698.3 L1992.1,699.1 L1992.3,700.9 L1992.5,701.3 L1993.0,704.0 L1993.5,704.7 L1993.9,706.3 L1994.5,705.2 L1995.2,703.9 L1995.8,702.5 L1996.4,700.1 L1996.9,699.4 L1997.2,698.0 L1997.5,696.9 L1997.8,695.1 L1998.1,693.6 L1998.4,691.9 L1998.8,690.5 L1999.1,688.1 L1999.5,686.5 L1999.8,685.6 L2000.1,684.1 L2000.5,682.8 L2000.9,680.9 L2001.4,680.0 L2001.9,677.7 L2002.4,676.9 L2002.8,675.3 L2003.3,673.5 L2003.7,671.9 L2004.1,671.3 L2004.7,669.3 L2005.3,667.8 L2006.0,665.9 L2006.6,665.1 L2007.3,663.2 L2007.9,661.7 L2008.5,660.5 L2009.9,659.3 L2011.4,658.1 L2012.9,657.6 L2014.1,657.5 L2015.4,659.1 L2016.8,660.7 L2017.9,662.6 L2018.6,663.2 L2019.4,665.1 L2020.2,667.1 L2020.9,668.2 L2021.6,668.4 L2023.7,669.4 L2025.9,669.2 L2026.9,668.8 L2028.1,667.2 L2029.3,665.6 L2030.3,664.5 L2032.5,663.4 L2034.7,663.9 L2035.5,664.7 L2036.4,666.2 L2037.3,667.6 L2038.2,669.5 L2039.0,671.5 L2039.4,672.4 L2039.8,673.5 L2040.3,674.2 L2040.7,676.3 L2041.2,678.1 L2041.7,679.3 L2042.2,681.4 L2042.7,682.4 L2043.2,684.7 L2043.7,685.7 L2044.1,687.3 L2044.5,688.1 L2044.9,689.6 L2045.4,691.1 L2045.9,692.7 L2046.4,694.1 L2046.9,696.1 L2047.4,698.3 L2047.9,699.6 L2048.4,701.3 L2048.9,702.5 L2049.4,703.8 L2049.9,705.0 L2050.8,706.3 L2051.8,707.2 L2053.0,708.4 L2054.1,709.8 L2055.3,710.6 L2056.3,711.9 L2057.2,713.6 L2058.0,714.7 L2058.9,715.2 L2059.7,716.9 L2060.6,718.1 L2061.5,719.6 L2062.3,720.8 L2063.0,722.0 L2063.5,722.7 L2064.0,724.6 L2064.5,725.5 L2065.0,727.3 L2065.6,728.7 L2066.2,730.5 L2066.7,732.6 L2067.3,733.4 L2067.8,735.3 L2068.3,736.8 L2068.8,738.0 L2069.3,739.7 L2069.8,740.7 L2070.3,742.7 L2070.9,744.1 L2071.5,746.0 L2072.1,746.8 L2072.7,748.5 L2073.2,750.1 L2073.8,752.1 L2074.3,752.5 L2074.7,753.8 L2075.5,755.9 L2076.4,757.9 L2077.3,758.7 L2078.2,760.4 L2079.0,761.9 L2079.7,762.9 L2081.0,764.7 L2082.2,766.1 L2083.4,766.0 L2084.4,765.4 L2085.6,763.9 L2086.7,762.9 L2087.7,760.9 L2088.4,759.5 L2089.2,758.4 L2090.0,756.1 L2090.7,754.4 L2091.4,753.4 L2093.2,752.8 L2095.0,753.4 L2096.4,753.8 L2098.0,754.7 L2099.4,755.0 L2100.3,754.0 L2101.3,752.7 L2102.3,750.7 L2103.0,749.2 L2103.8,748.1 L2104.5,747.0 L2105.2,745.4 L2106.7,743.1 L2108.0,742.3" fill="none" stroke="#f00" stroke-width="8.1" stroke-linejoin="round" stroke-miterlimit="2.7" stroke-linecap="round"/>
<path d="M133.8,1013.8 L134.6,1013.7 L135.5,1013.8 L136.6,1013.8 L137.8,1013.9 L139.2,1013.7 L140.7,1013.8 L142.3,1013.3 L144.0,1013.8 L145.8,1013.3 L147.6,1013.6 L149.4,1013.0 L151.3,1013.4 L153.2,1012.9 L155.1,1013.2 L156.9,1013.1 L158.7,1012.9 L160.5,1012.5 L162.2,1012.3 L163.8,1012.3 L165.3,1012.7 L166.7,1012.1 L168.0,1012.3 L169.4,1012.2 L170.8,1012.3" fill="none" stroke="#00009b" stroke-width="7.4" stroke-linejoin="round" stroke-miterlimit="2.7" stroke-linecap="round"/>
<path d="M170.8,1012.3 L172.2,1011.2 L173.7,1011.0 L175.3,1010.8 L176.9,1012.4 L178.4,1011.0 L180.1,1011.4 L181.7,1011.1 L183.3,1010.3 L185.0,1009.8 L186.6,1009.5 L188.2,1011.0 L189.8,1009.4 L191.4,1010.9 L192.9,1009.5 L194.4,1010.1 L195.9,1008.8 L197.3,1009.9 L198.7,1008.7 L200.0,1008.4 L201.3,1005.9 L202.7,1009.9 L204.1,1008.0 L205.6,1006.2 L207.2,1006.9 L208.8,1007.3 L210.4,1007.5 L212.0,1005.6 L213.7,1009.8 L215.3,1005.0 L217.0,1005.1 L218.7,1008.1 L220.3,1004.7 L221.9,1003.6 L223.5,1005.4 L225.1,1003.8 L226.6,1005.2 L228.1,1005.5 L229.5,1003.7 L230.8,1005.0 L232.1,1006.4 L233.3,1002.7 L234.7,1004.2 L236.2,1002.4 L237.8,1001.3 L239.4,1002.2 L241.0,1002.7 L242.7,1000.8 L244.3,1000.8 L246.0,1002.5 L247.6,999.9 L249.2,1001.0 L250.8,998.8 L252.3,1000.6 L253.8,1000.1 L255.2,1000.2 L256.6,999.7 L257.8,1000.6 L259.0,1000.5 L260.0,1000.0 L261.7,998.1 L263.4,995.9 L265.1,998.3 L266.7,994.4 L268.3,995.3 L269.8,994.2 L271.2,997.8 L272.6,998.5 L273.8,998.0 L275.0,1000.1 L276.5,996.9 L278.0,999.4 L279.6,1000.2 L281.2,997.7 L282.8,998.6 L284.2,1000.5 L285.5,1003.8 L286.7,1002.6 L287.5,1005.2 L288.3,1004.0 L289.2,1008.6 L290.0,1007.8 L290.9,1008.5 L291.7,1011.7 L292.5,1011.5" fill="none" stroke="#00009b" stroke-width="7.4" stroke-linejoin="miter" stroke-miterlimit="2.7" stroke-linecap="round"/>
<path d="M292.5,1011.5 L293.2,1013.0 L293.9,1015.2 L294.5,1016.3 L295.0,1018.0 L295.2,1019.3 L295.5,1020.5 L295.7,1021.9 L295.9,1022.7 L296.1,1024.2 L296.3,1025.7 L296.4,1027.5 L296.6,1029.0 L296.8,1030.6 L296.9,1032.6 L297.1,1034.1 L297.2,1036.0 L297.3,1037.7 L297.5,1038.9 L297.6,1041.1 L297.8,1042.3 L297.9,1043.6 L298.0,1045.8 L298.2,1046.6 L298.3,1048.0 L298.4,1049.4 L298.6,1050.8 L298.7,1052.8 L298.9,1054.2 L299.0,1055.6 L299.2,1057.3 L299.3,1059.3 L299.5,1061.0 L299.7,1062.7 L299.8,1064.4 L300.0,1065.9 L300.2,1067.8 L300.3,1069.8 L300.5,1071.4 L300.7,1073.2 L300.8,1074.9 L301.0,1076.4 L301.1,1077.2 L301.3,1078.4 L301.4,1080.1 L301.6,1080.9 L301.7,1081.5 L302.3,1084.5 L303.0,1085.9 L303.7,1086.8 L304.5,1087.8 L305.2,1089.0 L305.8,1087.5 L306.5,1086.1 L307.1,1084.2 L307.7,1083.1 L308.3,1081.5 L308.9,1079.8 L309.3,1078.1 L309.5,1077.1 L309.7,1075.2 L309.9,1074.1 L310.1,1072.6 L310.3,1070.9 L310.5,1069.1 L310.6,1067.0 L310.8,1065.7 L311.0,1063.9 L311.2,1061.9 L311.3,1060.6 L311.5,1059.7 L311.7,1058.1 L312.1,1056.3 L312.7,1055.0 L313.2,1053.5 L313.8,1051.6 L314.4,1050.5 L315.0,1048.8 L315.7,1050.1 L316.4,1051.8 L317.1,1053.3 L317.8,1054.3 L318.5,1055.8 L319.2,1057.0 L320.0,1058.1 L320.9,1059.0 L322.1,1060.0 L323.4,1061.2 L324.7,1062.1 L326.1,1062.9 L327.3,1064.1 L328.3,1065.3 L329.2,1066.1 L330.3,1067.2 L331.3,1068.9 L332.3,1070.1 L333.3,1071.2 L334.2,1072.5 L335.0,1073.0 L336.8,1073.9 L338.6,1073.5 L340.0,1074.9 L340.3,1076.2 L340.6,1077.2 L340.9,1078.6 L341.2,1080.1 L341.6,1081.8 L341.9,1083.6 L342.2,1085.6 L342.4,1086.8 L342.7,1088.9 L343.0,1090.2 L343.3,1091.5 L343.6,1093.2 L343.9,1094.5 L344.3,1096.1 L344.6,1097.7 L345.0,1099.0 L345.4,1100.3 L345.8,1101.8 L346.2,1103.8 L346.5,1105.5 L346.9,1106.8 L347.3,1108.5 L347.7,1106.6 L348.0,1104.9 L348.4,1103.3 L348.8,1101.9 L349.1,1099.6 L349.5,1098.1 L349.8,1096.4 L350.2,1095.1 L350.6,1093.9 L350.9,1091.8 L351.3,1090.7 L351.7,1090.3 L352.5,1088.6 L353.5,1086.6 L354.6,1085.4 L355.8,1084.5 L357.0,1083.6 L358.3,1083.2 L359.3,1083.2 L360.5,1083.1 L361.8,1083.2 L363.3,1083.7 L364.8,1084.2 L366.5,1084.8 L368.2,1086.0 L370.0,1086.8 L370.9,1087.0 L372.0,1087.9 L373.2,1088.5 L374.5,1089.0 L375.8,1089.8 L377.2,1090.5 L378.7,1091.8 L380.3,1092.5 L381.8,1093.0 L383.4,1094.0 L384.9,1095.3 L386.5,1096.0 L388.0,1097.1 L389.4,1097.6 L390.8,1098.8 L392.1,1099.5 L393.3,1099.7 L394.5,1100.7 L395.8,1101.1 L397.1,1102.2 L398.4,1103.0 L399.9,1103.8 L401.3,1104.2 L402.8,1104.9 L404.3,1106.1 L405.7,1106.8 L407.2,1107.3 L408.7,1108.1 L410.1,1109.1 L411.6,1109.5 L412.9,1110.5 L414.2,1110.8 L415.5,1111.4 L416.7,1111.9 L418.1,1112.5 L419.5,1113.1 L421.0,1113.1 L422.6,1114.0 L424.2,1114.1 L425.9,1114.6 L427.6,1115.2 L429.3,1115.7 L431.0,1116.0 L432.6,1116.5 L434.2,1116.4 L435.8,1116.7 L437.3,1117.3 L438.7,1117.2 L440.0,1117.4 L441.4,1117.6 L442.9,1118.2 L444.4,1118.4 L446.0,1118.5 L447.6,1118.8 L449.3,1118.8 L450.9,1118.6 L452.6,1118.7 L454.2,1119.1 L455.8,1118.7 L457.4,1119.2 L458.9,1118.9 L460.4,1118.9 L461.7,1119.2 L463.0,1119.0 L464.5,1119.5 L466.0,1119.4 L467.6,1119.1 L469.2,1118.8 L470.8,1118.7 L472.5,1118.9 L474.2,1118.8 L475.8,1118.5 L477.4,1118.6 L479.0,1118.4 L480.5,1118.4 L482.0,1117.8 L483.3,1117.6 L484.6,1117.6 L486.0,1117.5 L487.4,1117.1 L488.9,1117.2 L490.4,1116.6 L491.9,1116.4 L493.4,1116.3 L495.0,1116.1 L496.6,1115.8 L498.3,1115.2 L499.9,1114.9 L501.6,1114.9 L503.3,1114.5 L505.0,1113.9 L506.0,1113.3 L507.2,1113.2 L508.4,1113.0 L509.7,1112.4 L511.0,1111.9 L512.5,1112.1 L514.0,1111.6 L515.5,1110.7 L517.0,1110.4 L518.6,1110.1 L520.3,1109.4 L521.9,1108.8 L523.5,1108.8 L525.2,1108.3 L526.8,1107.6 L528.4,1106.9 L530.0,1106.7 L531.6,1106.0 L533.1,1106.3 L534.6,1105.2 L536.1,1105.0 L537.5,1105.0 L538.8,1104.3 L540.0,1104.0 L541.3,1103.7 L542.7,1103.6 L544.1,1103.6 L545.5,1103.6 L547.0,1103.0 L548.5,1102.8 L550.0,1103.0 L551.5,1102.6 L553.1,1102.4 L554.6,1102.1 L556.2,1102.0 L557.8,1102.4 L559.4,1101.6 L561.0,1101.6 L562.5,1101.7 L564.1,1101.7 L565.7,1101.5 L567.3,1101.0 L568.8,1101.1 L570.3,1100.6 L571.8,1100.1 L573.3,1100.0 L574.4,1099.9 L575.7,1099.7 L577.0,1099.0 L578.3,1098.7 L579.7,1098.9 L581.2,1098.0 L582.7,1098.1 L584.2,1097.4 L585.8,1097.0 L587.4,1096.6 L589.0,1096.3 L590.7,1096.3 L592.3,1095.2 L594.0,1095.3 L595.7,1094.5 L597.3,1094.0 L599.0,1093.9 L600.7,1093.2 L602.3,1092.7 L603.9,1092.4 L605.5,1092.2 L607.1,1091.8 L608.6,1091.2 L610.1,1090.4 L611.5,1090.6 L612.9,1090.1 L614.2,1089.9 L615.5,1089.6 L616.7,1088.9 L618.1,1088.9 L619.5,1088.5 L620.9,1087.7 L622.4,1087.3 L623.9,1086.9 L625.4,1086.5 L627.0,1086.0 L628.6,1085.4 L630.1,1085.0 L631.7,1085.0 L633.3,1084.2 L634.9,1083.9 L636.5,1083.6 L638.1,1083.1 L639.6,1082.3 L641.1,1082.3 L642.7,1081.8 L644.1,1081.4 L645.6,1080.8 L647.0,1080.4 L648.4,1080.0 L649.7,1079.2 L650.9,1079.1 L652.1,1078.6 L653.3,1078.5 L654.7,1077.6 L656.1,1077.4 L657.6,1076.8 L659.1,1076.6 L660.7,1075.8 L662.3,1075.6 L663.9,1075.1 L665.5,1074.5 L667.1,1073.5 L668.7,1073.5 L670.3,1072.8 L671.9,1072.2 L673.4,1071.6 L674.9,1070.7 L676.3,1070.8 L677.7,1070.1 L679.0,1069.6 L680.2,1069.1 L681.3,1069.1 L682.4,1068.8 L683.3,1068.6 L685.2,1067.5 L687.0,1067.1 L688.6,1066.7 L690.1,1066.2 L691.5,1066.1 L692.9,1065.7 L694.1,1066.0 L695.4,1065.5 L696.7,1065.4 L698.1,1065.4 L699.6,1066.0 L701.2,1065.8 L702.8,1066.3 L704.5,1066.5 L706.2,1067.2 L707.9,1067.7 L709.5,1067.7 L711.0,1068.4 L712.2,1069.0 L713.5,1069.3 L714.9,1070.3 L716.4,1070.9 L717.9,1071.4 L719.5,1072.6 L721.0,1073.3 L722.6,1073.8 L724.0,1074.9 L725.4,1075.8 L726.6,1076.2 L727.7,1076.7 L729.2,1077.3 L730.7,1078.3 L732.1,1078.7 L733.6,1079.0 L735.1,1079.7 L736.6,1080.2 L738.0,1081.2 L739.5,1081.5 L740.6,1080.5 L741.7,1079.0 L742.8,1078.4 L743.9,1076.7 L745.0,1075.9 L746.0,1074.7 L747.1,1073.8 L748.2,1072.6 L749.3,1071.4 L750.2,1070.9 L751.3,1070.1 L752.5,1069.1 L753.7,1067.7 L755.0,1066.5 L756.3,1065.8 L757.6,1064.8 L759.0,1063.4 L760.3,1063.1 L761.5,1062.5 L762.7,1061.7 L763.9,1061.4 L765.4,1061.6 L766.9,1062.0 L768.6,1061.8 L770.3,1062.2 L772.0,1062.6 L773.7,1063.2 L775.3,1063.0 L776.8,1063.3 L778.2,1063.1 L779.3,1062.8 L780.2,1061.8 L781.1,1061.4 L782.0,1060.2 L782.8,1058.5 L783.7,1057.1 L784.5,1055.1 L785.3,1053.9 L786.1,1052.0 L786.9,1050.6 L787.7,1049.3 L788.5,1047.6 L789.3,1047.0 L790.2,1045.5 L791.2,1044.4 L792.3,1043.7 L793.4,1043.0 L794.6,1042.1 L795.8,1041.2 L797.1,1040.0 L798.5,1039.4 L799.8,1038.3 L801.3,1037.2 L802.7,1036.8 L803.7,1036.4 L804.7,1035.7 L805.9,1035.3 L807.1,1034.5 L808.4,1034.0 L809.7,1033.6 L811.1,1033.1 L812.5,1032.5 L814.0,1031.7 L815.6,1031.1 L817.2,1030.8 L818.9,1030.5 L820.5,1030.0 L822.3,1029.1 L824.1,1028.5 L825.9,1028.2 L827.7,1027.5 L828.7,1027.5 L829.7,1027.5 L830.8,1026.7 L832.0,1026.7 L833.2,1026.5 L834.5,1026.2 L835.9,1025.9 L837.3,1025.5 L838.7,1024.9 L840.2,1025.0 L841.7,1024.7 L843.3,1023.7 L844.8,1024.0 L846.5,1023.3 L848.1,1022.7 L849.7,1022.4 L851.4,1022.5 L853.1,1022.1 L854.7,1021.3 L856.4,1021.2 L858.1,1021.0 L859.7,1020.9 L861.4,1020.1 L863.0,1020.0 L864.7,1019.3 L866.3,1018.9 L867.8,1018.6 L869.4,1018.4 L870.9,1018.3 L872.3,1017.7 L873.7,1017.3 L875.1,1017.1 L876.4,1016.7 L877.7,1016.5 L879.0,1016.3 L880.3,1016.1 L881.6,1015.6 L882.9,1015.6 L884.3,1015.2 L885.8,1015.3 L887.2,1014.6 L888.7,1014.7 L890.2,1014.0 L891.7,1013.5 L893.3,1013.5 L894.8,1012.8 L896.4,1012.5 L897.9,1012.1 L899.5,1012.2 L901.1,1012.1 L902.7,1011.3 L904.3,1011.0 L905.9,1010.7 L907.5,1010.3 L909.0,1010.2 L910.6,1009.6 L912.1,1009.1 L913.7,1009.3 L915.2,1008.7 L916.7,1008.0 L918.2,1008.2 L919.6,1007.8 L921.1,1007.2 L922.5,1007.1 L923.8,1007.0 L925.1,1006.3 L926.4,1006.0 L927.7,1005.6 L929.0,1005.4 L930.3,1005.1 L931.6,1004.8 L933.0,1004.6 L934.4,1003.7 L935.9,1003.4 L937.3,1003.3 L938.8,1002.9 L940.4,1002.3 L941.9,1001.9 L943.5,1001.2 L945.1,1001.2 L946.7,1000.5 L948.3,999.9 L949.9,999.3 L951.5,998.7 L953.1,998.8 L954.7,998.3 L956.3,997.2 L957.9,997.0 L959.5,996.6 L961.1,996.1 L962.6,995.6 L964.2,995.5 L965.7,994.6 L967.2,994.3 L968.6,994.1 L970.0,993.5 L971.4,993.0 L972.8,992.4 L974.1,992.1 L975.3,991.8 L976.5,991.6 L977.7,990.8 L979.1,990.5 L980.5,990.0 L981.9,989.5 L983.4,989.4 L984.9,988.6 L986.5,987.9 L988.1,987.4 L989.7,987.2 L991.3,986.2 L992.9,986.0 L994.6,984.9 L996.2,984.5 L997.9,983.8 L999.5,983.7 L1001.1,982.7 L1002.7,982.2 L1004.3,981.5 L1005.8,981.1 L1007.3,980.9 L1008.8,980.3 L1010.3,980.0 L1011.6,979.5 L1013.0,978.7 L1014.3,978.5 L1015.5,977.5 L1016.7,977.7 L1017.8,977.0 L1018.8,976.5 L1019.7,976.6 L1021.7,976.0 L1023.6,975.1 L1025.4,974.3 L1027.2,974.3 L1028.9,973.7 L1030.6,973.1 L1032.1,973.0 L1033.6,971.9 L1034.9,971.6 L1036.2,971.3 L1037.4,971.0 L1038.5,971.2 L1039.4,971.0 L1041.5,970.5 L1043.3,970.7 L1044.8,971.0 L1046.1,971.7 L1047.2,971.9 L1049.4,972.3 L1051.2,971.7 L1052.6,971.5 L1054.3,970.3 L1055.8,969.8 L1057.5,970.1 L1059.4,970.9 L1061.0,972.1 L1062.7,973.0 L1064.0,972.9 L1064.5,971.6 L1065.0,969.9 L1065.6,968.1 L1066.3,967.1 L1068.0,966.8 L1070.2,966.1 L1072.2,966.3 L1073.7,966.3 L1075.4,965.7 L1077.2,965.7 L1078.7,965.5 L1079.9,964.7 L1081.3,963.7 L1082.7,963.0 L1084.1,961.7 L1085.3,960.6 L1086.5,959.7 L1087.9,958.9 L1089.3,957.6 L1090.7,956.6 L1091.9,955.4 L1093.3,954.3 L1094.8,953.5 L1096.5,952.9 L1098.4,952.3 L1099.4,951.5 L1100.6,951.7 L1102.0,951.2 L1103.5,950.6 L1105.1,949.8 L1106.7,949.8 L1108.3,949.1 L1109.9,948.8 L1111.5,948.2 L1112.7,948.0 L1114.0,947.4 L1115.5,947.3 L1117.1,946.8 L1118.8,946.3 L1120.5,945.6 L1122.3,944.8 L1124.0,944.4 L1125.7,943.8 L1127.3,943.8 L1128.7,943.2 L1130.1,942.8 L1131.2,942.5 L1132.6,942.2 L1133.7,941.7 L1134.6,941.1 L1135.5,941.1 L1136.7,940.4 L1138.2,940.2 L1140.4,939.3 L1143.4,939.0 L1144.2,938.5 L1145.1,938.1 L1146.1,938.3 L1147.2,937.4 L1148.4,937.6 L1149.6,937.2 L1150.9,936.4 L1152.3,936.4 L1153.7,935.9 L1155.2,935.7 L1156.8,935.1 L1158.4,934.5 L1160.0,934.5 L1161.6,933.4 L1163.3,933.4 L1165.1,932.5 L1166.8,932.1 L1168.5,931.6 L1170.3,931.6 L1172.1,930.8 L1173.8,930.6 L1175.6,929.8 L1177.3,929.6 L1179.1,929.1 L1180.8,928.3 L1182.5,928.1 L1184.1,927.8 L1185.8,927.0 L1187.4,926.9 L1188.9,926.3 L1190.4,925.9 L1191.8,926.0 L1193.2,925.6 L1194.5,925.3 L1195.7,924.6 L1196.9,924.5 L1198.3,924.3 L1199.8,923.9 L1201.3,923.3 L1202.9,923.2 L1204.6,922.5 L1206.2,922.5 L1207.9,921.8 L1209.6,921.2 L1211.3,921.2 L1213.1,920.4 L1214.8,920.4 L1216.5,919.6 L1218.3,919.9 L1220.0,919.2 L1221.7,919.0 L1223.3,918.2 L1225.0,918.3 L1226.6,917.7 L1228.1,917.3 L1229.6,917.4 L1231.0,916.0" fill="none" stroke="#00009b" stroke-width="7.4" stroke-linejoin="round" stroke-miterlimit="2.7" stroke-linecap="round"/>
<path d="M1231.0,916.0 L1232.4,916.6 L1233.7,915.6 L1234.9,916.9 L1236.1,916.8 L1237.1,914.9 L1238.1,915.6 L1238.9,915.5 L1239.7,915.9 L1243.1,916.3 L1244.2,916.8 L1244.4,919.4 L1245.0,918.4 L1245.8,917.7 L1246.6,918.1 L1247.5,915.3 L1248.6,914.0 L1250.1,913.2 L1252.1,911.7 L1253.0,910.9 L1254.0,912.1 L1255.2,910.7 L1256.5,910.9 L1258.0,909.4 L1259.5,910.2 L1261.1,908.3 L1262.7,909.2 L1264.4,908.1 L1266.1,908.3 L1267.8,907.4 L1269.5,906.6 L1271.2,905.9 L1272.8,906.1 L1274.3,904.7 L1275.8,903.6 L1277.1,904.7 L1278.3,904.1 L1279.6,903.3 L1280.9,902.9 L1282.3,901.3 L1283.8,901.1 L1285.3,901.2 L1286.9,900.8 L1288.5,900.1 L1290.0,897.9 L1291.6,898.2 L1293.2,897.3 L1294.7,896.4 L1296.2,895.3 L1297.7,894.6 L1299.1,894.8 L1300.4,894.3 L1301.6,893.4 L1302.8,893.2 L1303.8,893.3 L1305.5,893.3 L1307.3,892.7 L1309.1,891.6 L1310.8,892.9 L1312.6,891.7 L1314.3,892.9 L1315.9,892.9 L1317.5,891.1 L1319.0,891.9 L1320.4,892.6 L1321.6,891.3 L1323.2,891.3 L1324.9,890.5 L1326.6,889.6 L1328.3,889.5 L1329.9,888.9 L1331.5,888.7 L1332.9,888.8 L1334.1,888.0 L1335.2,888.0 L1336.4,886.4 L1337.6,884.6 L1338.7,884.5 L1339.9,882.6 L1341.0,881.1 L1342.0,880.7 L1343.0,879.3 L1344.1,877.7 L1345.4,877.2 L1346.7,875.5 L1348.0,875.7 L1349.4,873.3 L1350.7,874.0 L1351.9,871.5 L1353.2,870.9 L1354.7,871.6 L1356.3,870.5 L1358.0,870.8 L1359.6,869.9 L1361.2,871.2 L1362.6,870.9 L1364.0,871.1 L1365.5,871.9 L1367.1,872.5 L1368.8,872.4 L1370.4,873.1 L1371.9,872.4 L1373.3,873.3 L1374.4,874.8 L1375.5,876.7 L1376.8,876.5 L1378.1,878.1 L1379.4,878.2 L1380.7,880.3 L1381.9,882.5 L1383.0,883.2 L1384.0,884.9 L1384.7,884.4 L1385.5,885.9 L1386.2,887.2 L1387.0,889.9 L1387.8,889.9 L1388.6,893.1 L1389.4,893.3 L1390.2,896.1 L1391.0,896.9 L1391.7,898.1 L1392.3,900.8 L1392.9,901.1 L1393.4,902.9 L1393.9,902.9 L1394.4,905.9 L1394.9,907.7 L1395.5,907.4 L1396.0,910.3 L1396.5,911.0 L1397.1,912.4 L1397.6,914.5 L1398.1,916.7 L1398.6,918.9 L1399.1,920.6 L1399.6,922.1 L1400.0,922.9 L1400.3,922.8 L1400.7,925.2 L1401.1,927.6 L1401.5,926.1 L1401.9,928.4 L1402.3,932.5 L1402.8,932.6 L1403.2,934.4 L1403.6,936.1 L1404.1,936.3 L1404.5,938.5 L1404.9,940.1 L1405.3,941.1 L1405.7,943.9 L1406.1,945.0 L1406.5,946.1 L1406.8,949.1 L1407.1,949.4 L1407.5,951.3 L1407.8,950.1 L1408.2,952.9 L1408.5,955.7 L1408.9,956.4 L1409.3,960.7 L1409.6,959.1 L1410.0,961.2 L1410.3,963.8 L1410.7,963.2 L1411.1,965.4 L1411.4,968.7 L1411.8,970.2 L1412.1,971.1 L1412.5,971.4 L1412.8,974.3 L1413.1,974.0 L1413.4,976.2 L1413.7,976.6 L1414.0,976.8 L1414.4,980.3 L1414.8,981.3 L1415.1,985.4 L1415.5,985.0 L1415.9,986.6 L1416.3,989.5 L1416.7,988.9 L1417.1,992.4 L1417.5,996.0 L1417.9,995.4 L1418.3,996.1 L1418.7,998.3 L1419.2,999.1 L1419.6,1001.9 L1420.1,1001.3 L1420.6,1002.5 L1421.1,1005.5 L1421.7,1008.8 L1422.3,1008.5 L1423.0,1008.3 L1423.7,1009.6 L1424.4,1013.0 L1425.1,1014.5 L1425.8,1016.1 L1426.6,1018.4 L1427.3,1016.1 L1428.0,1020.7 L1428.8,1022.3 L1429.5,1024.1 L1430.1,1023.3 L1430.8,1026.6 L1431.4,1025.8 L1432.0,1029.3 L1432.6,1029.0 L1433.2,1031.6 L1433.9,1032.4 L1434.5,1033.9 L1435.2,1035.3 L1436.0,1036.5 L1436.7,1037.5 L1437.5,1039.4 L1438.2,1040.1 L1439.0,1042.4 L1439.7,1043.7 L1440.5,1044.6 L1441.2,1046.3 L1442.0,1048.9 L1442.7,1049.9 L1443.4,1052.4 L1444.1,1052.2 L1444.7,1053.5 L1445.3,1055.9 L1445.9,1057.4 L1446.6,1057.4 L1447.2,1058.4 L1447.9,1061.1 L1448.7,1060.4 L1449.4,1064.3 L1450.2,1065.6 L1450.9,1067.2 L1451.7,1067.0 L1452.5,1068.5 L1453.2,1071.5 L1454.0,1074.3 L1454.7,1073.7 L1455.5,1074.8 L1456.2,1077.9 L1456.9,1078.1 L1457.5,1079.6 L1458.1,1081.9 L1458.7,1082.7 L1459.7,1083.0 L1460.7,1087.1 L1461.8,1085.2 L1463.0,1088.8 L1464.1,1088.5 L1465.2,1091.3 L1466.4,1090.5 L1467.4,1091.8 L1468.5,1094.6 L1469.4,1094.0 L1470.3,1094.8" fill="none" stroke="#00009b" stroke-width="7.4" stroke-linejoin="miter" stroke-miterlimit="2.7" stroke-linecap="round"/>
<path d="M1470.3,1094.8 L1471.6,1095.6 L1473.0,1096.7 L1474.5,1097.4 L1475.9,1097.7 L1477.4,1098.3 L1478.9,1098.6 L1480.3,1098.2 L1481.4,1098.1 L1482.6,1097.6 L1483.9,1096.6 L1485.4,1095.7 L1486.8,1095.2 L1488.3,1094.2 L1489.8,1093.0 L1491.2,1090.8" fill="none" stroke="#00009b" stroke-width="7.4" stroke-linejoin="round" stroke-miterlimit="2.7" stroke-linecap="round"/>
<path d="M1491.2,1090.8 L1492.5,1094.1 L1493.7,1090.4 L1494.6,1087.9 L1495.6,1087.6 L1496.6,1087.8 L1497.7,1083.4 L1498.8,1084.4 L1499.9,1083.4 L1501.0,1081.1 L1502.1,1080.4 L1503.2,1079.1 L1504.2,1078.0 L1505.2,1078.9 L1506.1,1075.3 L1507.0,1074.9 L1507.6,1072.1 L1508.2,1071.7 L1508.9,1072.7 L1509.5,1070.3 L1510.2,1070.8 L1510.9,1066.0 L1511.6,1065.1 L1512.3,1061.9 L1513.0,1059.8 L1513.7,1057.2 L1514.4,1058.1 L1515.1,1057.1 L1515.8,1056.5 L1516.4,1057.8 L1517.0,1053.0 L1517.6,1051.2 L1518.2,1049.6 L1518.7,1049.4 L1520.1,1048.9 L1521.5,1045.5 L1523.0,1048.0 L1524.5,1043.8 L1526.0,1045.2 L1527.4,1044.2 L1528.7,1044.3 L1529.8,1047.3 L1530.9,1045.5 L1532.1,1048.0 L1533.4,1048.3 L1534.6,1048.8 L1536.0,1051.0 L1537.3,1051.8 L1538.7,1049.7 L1539.8,1055.8 L1541.2,1055.1 L1542.7,1054.7 L1544.3,1054.1 L1546.0,1056.8 L1547.8,1057.7 L1549.5,1058.0 L1551.2,1057.8 L1552.7,1058.9 L1554.1,1059.1 L1555.3,1058.5 L1556.3,1061.6 L1557.3,1062.5 L1558.4,1063.8 L1559.4,1064.5 L1560.4,1066.5 L1561.4,1067.2 L1562.5,1071.3 L1563.4,1071.9 L1564.4,1072.9 L1565.3,1075.1 L1566.2,1075.2 L1567.0,1077.6 L1568.5,1077.2 L1570.0,1076.1" fill="none" stroke="#00009b" stroke-width="7.4" stroke-linejoin="miter" stroke-miterlimit="2.7" stroke-linecap="round"/>
<path d="M1570.0,1076.1 L1571.7,1077.1 L1573.4,1077.0 L1575.0,1077.3 L1576.6,1077.1 L1578.0,1076.7 L1579.2,1076.5 L1580.5,1075.3 L1582.0,1074.9 L1583.4,1073.4 L1584.8,1072.1 L1586.2,1071.3 L1587.5,1070.3 L1588.7,1069.7 L1590.3,1069.5 L1592.0,1068.7 L1593.7,1068.4 L1595.5,1068.2 L1597.2,1068.1 L1598.7,1068.6 L1599.9,1068.9 L1601.3,1069.5 L1602.6,1070.3 L1604.1,1070.7 L1605.6,1071.7 L1607.1,1071.9 L1608.7,1072.6 L1609.8,1072.5 L1611.2,1072.3 L1612.7,1071.8 L1614.3,1071.4 L1616.0,1071.7 L1617.7,1071.1 L1619.4,1070.8 L1621.1,1070.7 L1622.6,1069.9 L1624.1,1070.2 L1625.3,1070.0 L1626.7,1070.3 L1628.2,1070.2 L1629.7,1070.2 L1631.2,1071.1 L1632.8,1071.0 L1634.3,1071.7 L1635.8,1072.3 L1637.3,1072.5 L1638.7,1073.4 L1639.7,1073.8 L1640.9,1074.4 L1642.1,1075.2 L1643.5,1076.7 L1644.9,1077.3 L1646.3,1078.4 L1647.7,1079.5 L1649.1,1080.3 L1650.5,1081.8 L1651.9,1082.8 L1653.1,1083.8 L1654.3,1084.2 L1655.3,1084.8 L1656.7,1085.7 L1658.2,1086.9 L1659.7,1087.6 L1661.2,1088.2 L1662.8,1089.1 L1664.3,1089.6 L1665.8,1090.8 L1667.3,1091.1 L1668.7,1091.7 L1669.9,1092.3 L1671.3,1092.4 L1672.9,1093.1 L1674.5,1093.3 L1676.2,1094.0 L1677.8,1094.0 L1679.5,1094.5 L1681.1,1095.2 L1682.7,1095.6 L1684.1,1096.1 L1685.3,1096.8 L1686.5,1097.1 L1687.7,1098.0 L1688.9,1098.4 L1690.1,1099.8 L1691.4,1100.3 L1692.6,1101.6 L1693.9,1102.4 L1695.1,1103.5 L1696.3,1104.6 L1697.5,1105.3 L1698.7,1106.9 L1699.5,1107.4 L1700.3,1108.7 L1701.3,1109.7 L1702.2,1110.7 L1703.2,1112.0 L1704.3,1113.0 L1705.4,1114.5 L1706.5,1116.1 L1707.5,1116.9 L1708.6,1118.2 L1709.7,1119.8 L1710.8,1121.1 L1711.8,1122.2 L1712.7,1123.4 L1713.7,1125.0 L1714.5,1125.7 L1715.3,1126.5 L1716.3,1127.7 L1717.4,1129.2 L1718.5,1130.2 L1719.6,1131.8 L1720.7,1133.2 L1721.9,1134.5 L1723.0,1135.9 L1724.1,1137.4 L1725.2,1138.0 L1726.2,1139.7 L1727.1,1140.1 L1727.9,1140.8 L1728.7,1141.9 L1730.5,1142.5 L1732.1,1142.5 L1733.7,1141.9 L1735.4,1142.1 L1737.0,1142.2 L1737.9,1143.0 L1739.0,1143.4 L1740.2,1144.6 L1741.5,1145.6 L1742.8,1146.6 L1744.1,1147.8 L1745.4,1148.6 L1746.6,1150.1 L1747.7,1151.0 L1748.7,1151.5 L1749.9,1152.7 L1751.2,1153.8 L1752.5,1154.4 L1753.8,1155.9 L1755.1,1157.0 L1756.4,1157.3 L1757.6,1158.2 L1758.7,1158.7 L1760.2,1159.5 L1761.9,1160.1 L1763.6,1160.9 L1765.4,1161.2 L1767.1,1161.5 L1768.7,1161.7 L1769.9,1161.5 L1771.3,1161.4 L1772.8,1160.9 L1774.4,1160.0 L1776.0,1159.5 L1777.5,1158.8 L1779.0,1158.5 L1780.3,1158.0 L1781.8,1158.1 L1783.5,1157.8 L1785.3,1157.7 L1787.1,1156.8 L1788.9,1156.5 L1790.5,1156.9 L1792.0,1156.6 L1793.5,1157.2 L1795.1,1157.2 L1796.9,1157.7 L1798.6,1158.1 L1800.3,1159.2 L1801.8,1159.3 L1803.0,1159.5 L1804.8,1159.2 L1806.6,1158.9 L1808.3,1158.2 L1810.0,1157.5 L1811.6,1157.2 L1813.4,1157.5 L1815.4,1158.0 L1817.2,1157.4 L1818.7,1156.9 L1819.5,1156.0 L1820.2,1154.9 L1820.9,1153.7 L1821.7,1152.0 L1822.4,1150.5 L1823.1,1149.0 L1823.8,1146.6 L1824.5,1145.0 L1824.9,1144.4 L1825.3,1143.3 L1825.7,1141.4 L1826.1,1140.4 L1826.6,1139.0 L1827.1,1137.6 L1827.6,1135.7 L1828.1,1133.9 L1828.6,1132.3 L1829.1,1131.0 L1829.6,1129.3 L1830.1,1127.4 L1830.5,1126.1 L1831.0,1124.7 L1831.4,1123.3 L1831.8,1121.6 L1832.2,1120.6 L1832.6,1119.1 L1833.1,1117.9 L1833.5,1116.2 L1834.0,1114.5 L1834.5,1113.3 L1835.0,1111.5 L1835.5,1110.2 L1836.0,1108.3 L1836.5,1106.9 L1837.0,1105.5 L1837.5,1103.5 L1837.9,1102.5 L1838.3,1100.7 L1838.7,1100.1 L1839.1,1098.3 L1839.5,1097.3 L1840.0,1095.6 L1840.4,1093.8 L1840.9,1092.3 L1841.4,1090.8 L1841.9,1089.0 L1842.4,1087.2 L1842.8,1085.9 L1843.3,1084.2 L1843.7,1083.3 L1844.1,1081.6 L1844.5,1080.6 L1844.9,1079.5 L1845.9,1078.0 L1847.0,1075.9 L1848.1,1074.7 L1849.1,1073.9 L1850.0,1073.1 L1851.5,1073.9 L1853.1,1075.2 L1854.4,1076.5 L1855.6,1077.8 L1856.8,1079.6 L1858.0,1080.7 L1859.6,1079.3 L1861.5,1077.9 L1863.1,1077.7 L1863.8,1078.0 L1864.6,1079.0 L1865.4,1080.8 L1866.1,1082.3 L1866.8,1084.3 L1867.4,1085.8 L1867.8,1086.7 L1868.3,1088.7 L1868.7,1090.5 L1869.1,1092.2 L1869.5,1094.3 L1869.9,1096.2 L1870.3,1097.0 L1871.4,1098.7 L1872.7,1099.7 L1874.0,1100.4 L1874.5,1098.7 L1875.0,1098.0 L1875.5,1096.1 L1876.0,1094.8 L1876.5,1093.4 L1876.9,1091.0 L1877.1,1090.2 L1877.2,1088.8 L1877.4,1087.7 L1877.5,1085.9 L1877.7,1084.4 L1877.8,1082.8 L1878.0,1080.9 L1878.2,1079.2 L1878.3,1077.5 L1878.5,1075.9 L1878.6,1073.9 L1878.8,1072.8 L1878.9,1070.9 L1879.1,1069.3 L1879.2,1068.0 L1879.4,1067.0 L1879.5,1064.9 L1879.7,1063.8 L1879.9,1061.7 L1880.1,1060.5 L1880.3,1058.4 L1880.4,1056.8 L1880.6,1055.2 L1880.8,1052.9 L1881.0,1051.3 L1881.2,1050.1 L1881.4,1048.5 L1881.6,1047.3 L1881.8,1045.7 L1882.0,1044.8 L1882.4,1042.8 L1882.8,1041.3 L1883.2,1039.6 L1883.6,1038.2 L1884.1,1036.5 L1884.6,1035.1 L1885.2,1034.1 L1885.7,1032.5 L1886.3,1031.9 L1887.2,1030.4 L1888.3,1028.9 L1889.5,1027.5 L1890.8,1026.5 L1892.1,1025.3 L1893.3,1024.3 L1894.3,1022.9 L1895.3,1021.8 L1896.3,1020.8 L1897.4,1018.9 L1898.5,1017.9 L1899.6,1016.4 L1900.7,1015.1 L1901.6,1013.8 L1902.4,1012.2 L1903.3,1011.3 L1904.3,1009.7 L1905.3,1007.9 L1906.3,1007.1 L1907.3,1005.5 L1908.1,1004.5 L1908.9,1003.4 L1910.3,1001.7 L1911.8,1001.1 L1913.3,999.8 L1914.7,999.5 L1916.0,999.9 L1917.6,999.9 L1919.2,1000.7 L1920.8,1001.7 L1922.0,1002.3 L1922.8,1003.7 L1923.6,1004.5 L1924.4,1006.1 L1925.2,1007.8 L1925.9,1009.5 L1926.6,1010.8 L1927.1,1012.6 L1927.4,1014.3 L1927.7,1015.2 L1928.0,1016.7 L1928.3,1018.2 L1928.6,1020.1 L1928.8,1021.8 L1929.1,1023.5 L1929.3,1025.1 L1929.6,1027.0 L1929.8,1028.7 L1930.0,1030.1 L1930.1,1031.8 L1930.3,1033.1 L1930.4,1034.4 L1930.6,1036.1 L1930.7,1037.3 L1930.8,1039.2 L1931.0,1040.5 L1931.1,1042.6 L1931.3,1044.3 L1931.4,1046.2 L1931.5,1047.8 L1931.7,1049.5 L1931.8,1050.6 L1931.9,1052.5 L1932.0,1053.7 L1932.1,1054.9 L1932.2,1056.3 L1932.3,1058.1 L1932.4,1059.7 L1932.6,1061.3 L1932.7,1062.9 L1932.8,1064.2 L1932.9,1065.8 L1933.0,1067.8 L1933.1,1069.1 L1933.2,1070.8 L1933.3,1072.2 L1933.4,1073.8 L1933.5,1075.6 L1933.6,1076.6 L1933.7,1078.4 L1933.8,1079.6 L1933.9,1081.6 L1934.0,1083.0 L1934.1,1084.8 L1934.2,1086.7 L1934.3,1088.2 L1934.4,1090.3 L1934.5,1092.0 L1934.6,1093.3 L1934.6,1095.4 L1934.7,1096.4 L1934.8,1097.3 L1934.8,1098.9 L1934.8,1101.1 L1934.7,1102.5 L1934.6,1104.0 L1935.5,1102.2 L1936.4,1100.8 L1937.3,1099.8 L1938.1,1098.1 L1938.7,1096.0 L1938.9,1094.7 L1939.1,1093.4 L1939.3,1092.2 L1939.5,1090.0 L1939.7,1088.6 L1939.8,1086.6 L1940.0,1084.1 L1940.2,1082.8 L1940.3,1080.4 L1940.5,1079.3 L1940.7,1078.1 L1940.9,1076.9 L1941.7,1074.6 L1942.6,1073.3 L1943.6,1071.6 L1944.6,1070.5 L1944.8,1072.2 L1945.0,1073.7 L1945.3,1075.5 L1945.5,1077.2 L1945.7,1079.3 L1946.0,1080.9 L1946.2,1082.6 L1946.4,1083.9 L1946.5,1085.2 L1946.7,1086.5 L1947.1,1088.5 L1947.4,1090.0 L1947.8,1091.4 L1948.1,1093.1 L1948.7,1091.9 L1949.3,1090.1 L1949.9,1088.6 L1950.4,1087.3 L1950.9,1085.9 L1951.3,1084.3 L1951.4,1083.0 L1951.6,1081.8 L1951.7,1080.6 L1951.8,1079.0 L1951.9,1077.2 L1952.0,1075.5 L1952.0,1074.0 L1952.1,1072.0 L1952.2,1070.2 L1952.3,1068.9 L1952.4,1067.5 L1952.5,1065.7 L1952.6,1064.7 L1952.8,1063.3 L1952.9,1061.2 L1953.1,1059.5 L1953.2,1057.9 L1953.4,1056.0 L1953.6,1054.6 L1953.8,1052.9 L1954.0,1050.8 L1954.2,1049.5 L1954.4,1047.9 L1954.5,1046.3 L1954.7,1045.8 L1955.1,1043.3 L1955.5,1041.5 L1955.9,1040.3 L1956.4,1038.6 L1957.0,1037.8 L1957.6,1036.7 L1958.6,1036.1 L1960.0,1034.9 L1961.5,1034.5 L1962.9,1033.6 L1964.1,1032.5 L1964.9,1031.1 L1965.8,1029.7 L1966.7,1028.3 L1967.6,1026.6 L1968.4,1025.2 L1969.2,1023.7 L1970.0,1022.2 L1970.8,1020.8 L1971.8,1019.3 L1972.7,1017.2 L1973.5,1015.8 L1974.3,1014.6 L1975.9,1013.2 L1977.7,1012.1 L1979.4,1011.9 L1980.8,1012.3 L1982.4,1012.6 L1984.0,1013.5 L1985.2,1014.4 L1985.8,1015.3 L1986.3,1016.6 L1986.8,1017.8 L1987.3,1019.8 L1987.7,1021.6 L1988.1,1023.8 L1988.3,1024.5 L1988.6,1026.2 L1988.9,1027.7 L1989.2,1029.4 L1989.4,1031.1 L1989.7,1032.7 L1990.0,1034.9 L1990.3,1036.7 L1990.6,1038.3 L1990.8,1039.5 L1991.0,1041.2 L1991.2,1042.9 L1991.4,1044.6 L1991.7,1046.3 L1991.9,1047.6 L1992.2,1050.0 L1992.4,1051.7 L1992.6,1053.1 L1992.8,1055.1 L1993.0,1056.3 L1993.2,1057.4 L1993.8,1059.0 L1994.4,1060.4 L1995.0,1061.5 L1995.9,1060.1 L1996.8,1058.8 L1997.6,1057.7 L1998.3,1056.1 L1998.6,1054.7 L1998.9,1053.5 L1999.2,1052.1 L1999.5,1050.2 L1999.8,1048.7 L2000.1,1046.9 L2000.5,1045.8 L2001.0,1043.8 L2001.5,1042.6 L2002.2,1041.1 L2002.9,1039.6 L2003.6,1038.3 L2004.3,1036.6 L2004.9,1035.3 L2005.6,1034.0 L2006.5,1032.3 L2007.4,1030.9 L2008.3,1029.6 L2009.1,1027.7 L2009.9,1027.2 L2011.5,1027.2 L2013.4,1027.1 L2015.0,1028.2 L2016.7,1028.3 L2018.5,1029.7 L2020.1,1031.1 L2020.9,1031.9 L2021.6,1033.6 L2022.4,1035.3 L2023.1,1037.2 L2023.8,1038.2 L2025.1,1039.3 L2026.7,1039.6 L2028.1,1039.8 L2029.5,1039.0 L2031.1,1037.2 L2032.5,1036.3 L2033.9,1035.8 L2035.4,1036.6 L2036.8,1037.4 L2037.7,1038.3 L2038.8,1039.8 L2039.9,1040.7 L2040.9,1042.5 L2041.9,1044.2 L2042.5,1045.4 L2043.1,1046.1 L2043.8,1047.7 L2044.5,1049.4 L2045.1,1051.4 L2045.8,1052.4 L2046.4,1054.5 L2047.0,1055.5 L2047.5,1056.9 L2048.1,1058.6 L2048.6,1059.6 L2049.2,1061.5 L2049.9,1063.0 L2050.5,1064.6 L2051.0,1066.2 L2051.6,1067.8 L2052.1,1068.8 L2053.0,1069.9 L2054.1,1071.7 L2055.2,1072.6 L2056.2,1073.4 L2057.2,1074.8 L2058.3,1075.8 L2059.5,1076.5 L2060.8,1078.2 L2062.0,1079.3 L2063.0,1080.2 L2063.6,1081.1 L2064.3,1083.0 L2064.9,1084.4 L2065.6,1085.4 L2066.2,1087.5 L2066.8,1089.1 L2067.4,1090.6 L2067.7,1091.8 L2068.1,1093.2 L2068.5,1094.2 L2068.9,1096.1 L2069.3,1097.8 L2069.8,1099.0 L2070.2,1100.9 L2070.6,1102.5 L2071.0,1104.2 L2071.4,1105.3 L2071.7,1106.3 L2072.1,1107.7 L2072.6,1109.4 L2073.1,1110.7 L2073.6,1112.7 L2074.2,1114.3 L2074.7,1115.4 L2075.2,1117.2 L2075.7,1118.5 L2076.1,1119.3 L2076.6,1121.2 L2077.1,1122.8 L2077.7,1124.1 L2078.3,1125.7 L2078.9,1127.4 L2079.5,1129.2 L2080.0,1130.3 L2080.5,1131.5 L2081.9,1133.0 L2083.5,1134.3 L2084.8,1134.8 L2085.7,1134.3 L2086.7,1132.1 L2087.7,1130.0 L2088.5,1128.6 L2089.0,1126.8 L2089.5,1125.7 L2090.0,1123.6 L2090.4,1122.0 L2090.9,1120.8 L2091.4,1119.9 L2092.5,1117.8 L2093.8,1116.5 L2095.0,1115.7 L2096.0,1116.6 L2097.2,1118.0 L2098.4,1119.8 L2099.4,1120.5 L2100.9,1120.3 L2102.5,1118.9 L2103.7,1117.5 L2104.2,1115.8 L2104.5,1114.2 L2104.9,1112.2 L2105.2,1110.4 L2105.5,1109.6 L2108.0,1107.8" fill="none" stroke="#00009b" stroke-width="7.4" stroke-linejoin="round" stroke-miterlimit="2.7" stroke-linecap="round"/>
<polygon points="302.5,327.3 306.5,333.3 310.5,327.3" fill="#000"/>
<polygon points="309.7,272.5 313.7,266.5 317.7,272.5" fill="#000"/>
<polygon points="342.3,336.6 346.3,342.6 350.3,336.6" fill="#000"/>
<polygon points="737.0,315.0 741.0,321.0 745.0,315.0" fill="#000"/>
<polygon points="1933.3,343.9 1937.3,349.9 1941.3,343.9" fill="#000"/>
<polygon points="1941.0,311.7 1945.0,305.7 1949.0,311.7" fill="#000"/>
<polygon points="1945.5,330.0 1949.5,336.0 1953.5,330.0" fill="#000"/>
<polygon points="343.1,755.7 347.1,761.7 351.2,755.7" fill="#f00"/>
<polygon points="735.5,735.5 739.5,741.5 743.5,735.5" fill="#f00"/>
<polygon points="1929.8,746.5 1933.8,752.5 1937.8,746.5" fill="#f00"/>
<polygon points="1939.8,719.2 1943.8,713.2 1947.8,719.2" fill="#f00"/>
<polygon points="1943.4,737.5 1947.4,743.5 1951.5,737.5" fill="#f00"/>
<polygon points="1989.9,705.8 1993.9,711.8 1998.0,705.8" fill="#f00"/>
<polygon points="301.5,1088.5 305.2,1094.5 308.9,1088.5" fill="#00009b"/>
<polygon points="311.3,1049.3 315.0,1043.3 318.7,1049.3" fill="#00009b"/>
<polygon points="343.6,1108.0 347.3,1114.0 351.0,1108.0" fill="#00009b"/>
<polygon points="735.8,1081.0 739.5,1087.0 743.2,1081.0" fill="#00009b"/>
<polygon points="1870.3,1099.9 1874.0,1105.9 1877.7,1099.9" fill="#00009b"/>
<polygon points="1930.9,1103.5 1934.6,1109.5 1938.3,1103.5" fill="#00009b"/>
<polygon points="1940.9,1071.0 1944.6,1065.0 1948.3,1071.0" fill="#00009b"/>
<polygon points="1944.4,1092.6 1948.1,1098.6 1951.8,1092.6" fill="#00009b"/>
<polygon points="1991.3,1061.0 1995.0,1067.0 1998.7,1061.0" fill="#00009b"/>
</g>
<g fill="#000">
<rect x="131" y="36" width="5.9" height="1156"/>
<rect x="131" y="40" width="1982" height="5.9"/>
<rect x="2107.1" y="36" width="5.9" height="1130.7"/>
<rect x="131" y="1187" width="1978" height="5"/>
<rect x="412.7" y="1174.0" width="5.8" height="15.0"/>
<rect x="694.4" y="1161.7" width="5.8" height="27.3"/>
<rect x="976.2" y="1174.0" width="5.8" height="15.0"/>
<rect x="1257.9" y="1161.7" width="5.8" height="27.3"/>
<rect x="1539.6" y="1174.0" width="5.8" height="15.0"/>
<rect x="1821.3" y="1161.7" width="5.8" height="27.3"/>
<rect x="2103.0" y="1174.0" width="5.8" height="15.0"/>
</g>
<polygon points="2009.4,272 2014.2,272 2012.2,303.5" fill="#000"/><polygon points="2010.2,270 2013.8,270 2012.2,262.5" fill="#000"/>
<polygon points="2007,673 2011.3,667 2009.4,688" fill="#f00"/>
<polygon points="2008.6,1031 2012.8,1028 2010.8,1040" fill="#00009b"/><polygon points="2008.8,1026 2012,1026 2010.3,1020.5" fill="#00009b"/>
<line x1="426.6" y1="443.5" x2="452.5" y2="376.7" stroke="#000" stroke-width="2.0"/><polygon points="465.1,344.2 460.8,379.9 444.2,373.5" fill="#000"/>
<line x1="718.5" y1="409.4" x2="733.3" y2="353.7" stroke="#000" stroke-width="2.0"/><polygon points="742.2,320.1 741.9,356.0 724.7,351.4" fill="#000"/>
<line x1="827.1" y1="371.6" x2="802.2" y2="324.1" stroke="#000" stroke-width="2.0"/><polygon points="786.0,293.3 810.0,319.9 794.3,328.2" fill="#000"/>
<line x1="1419.4" y1="399.7" x2="1466.6" y2="353.4" stroke="#000" stroke-width="2.0"/><polygon points="1491.5,329.0 1472.9,359.7 1460.4,347.0" fill="#000"/>
<line x1="1573.2" y1="212.5" x2="1573.2" y2="280.7" stroke="#000" stroke-width="2.0"/><polygon points="1573.2,315.5 1564.3,280.7 1582.1,280.7" fill="#000"/>
<line x1="1639.1" y1="379.4" x2="1624.0" y2="341.0" stroke="#000" stroke-width="2.0"/><polygon points="1611.3,308.6 1632.3,337.8 1615.8,344.3" fill="#000"/>
<line x1="1796.8" y1="257.1" x2="1796.8" y2="375.6" stroke="#000" stroke-width="2.0"/><polygon points="1796.8,410.4 1787.9,375.6 1805.7,375.6" fill="#000"/>
<line x1="1999.3" y1="406.3" x2="1960.2" y2="367.4" stroke="#000" stroke-width="2.0"/><polygon points="1935.6,342.9 1966.5,361.1 1953.9,373.7" fill="#000"/>
<line x1="434.3" y1="849.5" x2="463.0" y2="785.7" stroke="#000" stroke-width="2.0"/><polygon points="477.3,753.9 471.1,789.3 454.9,782.0" fill="#000"/>
<line x1="689.6" y1="830.8" x2="723.9" y2="770.3" stroke="#000" stroke-width="2.0"/><polygon points="741.0,740.0 731.6,774.7 716.1,765.9" fill="#000"/>
<line x1="835.0" y1="825.3" x2="798.5" y2="757.3" stroke="#000" stroke-width="2.0"/><polygon points="782.0,726.7 806.3,753.1 790.6,761.5" fill="#000"/>
<line x1="1343.8" y1="757.0" x2="1398.2" y2="725.6" stroke="#000" stroke-width="2.0"/><polygon points="1428.3,708.1 1402.6,733.3 1393.7,717.9" fill="#000"/>
<line x1="1480.3" y1="654.7" x2="1480.3" y2="713.7" stroke="#000" stroke-width="2.0"/><polygon points="1480.3,748.5 1471.4,713.7 1489.2,713.7" fill="#000"/>
<line x1="1938.9" y1="598.7" x2="1938.9" y2="685.0" stroke="#000" stroke-width="2.0"/><polygon points="1938.9,719.8 1930.0,685.0 1947.8,685.0" fill="#000"/>
<line x1="461.7" y1="1031.7" x2="461.7" y2="1084.4" stroke="#000" stroke-width="2.0"/><polygon points="461.7,1119.2 452.8,1084.4 470.6,1084.4" fill="#000"/>
<line x1="705.9" y1="1148.8" x2="726.0" y2="1114.9" stroke="#000" stroke-width="2.0"/><polygon points="743.8,1085.0 733.7,1119.5 718.3,1110.4" fill="#000"/>
<line x1="847.6" y1="1125.8" x2="807.4" y2="1086.9" stroke="#000" stroke-width="2.0"/><polygon points="782.4,1062.7 813.6,1080.5 801.2,1093.3" fill="#000"/>
<line x1="1437.2" y1="1147.3" x2="1463.6" y2="1120.4" stroke="#000" stroke-width="2.0"/><polygon points="1488.1,1095.6 1470.0,1126.7 1457.3,1114.2" fill="#000"/>
<line x1="1578.7" y1="992.3" x2="1578.7" y2="1047.7" stroke="#000" stroke-width="2.0"/><polygon points="1578.7,1082.5 1569.8,1047.7 1587.6,1047.7" fill="#000"/>
<line x1="1767.7" y1="1007.7" x2="1767.7" y2="1115.0" stroke="#000" stroke-width="2.0"/><polygon points="1767.7,1149.8 1758.8,1115.0 1776.6,1115.0" fill="#000"/>
</svg>
</body></html>
